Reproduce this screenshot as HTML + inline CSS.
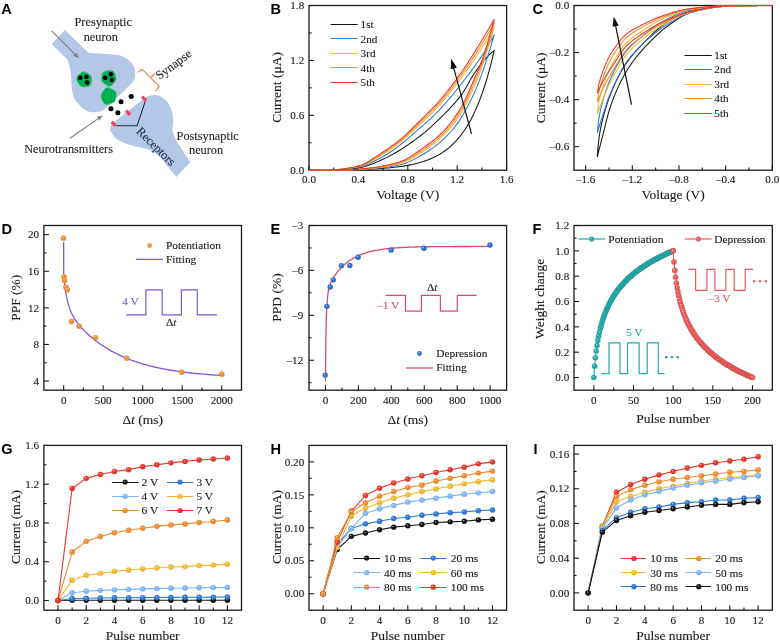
<!DOCTYPE html>
<html><head><meta charset="utf-8"><title>Figure</title>
<style>html,body{margin:0;padding:0;background:#fff;}svg{display:block;}</style></head>
<body><svg width="780" height="642" viewBox="0 0 780 642"><defs><radialGradient id="g0" cx="0.5" cy="0.5" fx="0.36" fy="0.32" r="0.55"><stop offset="0" stop-color="#fbe3ca"/><stop offset="0.35" stop-color="#f0902a"/><stop offset="0.85" stop-color="#f0902a"/><stop offset="1" stop-color="#9c5e1b"/></radialGradient><radialGradient id="g1" cx="0.5" cy="0.5" fx="0.36" fy="0.32" r="0.55"><stop offset="0" stop-color="#cadcf5"/><stop offset="0.35" stop-color="#2a72d8"/><stop offset="0.85" stop-color="#2a72d8"/><stop offset="1" stop-color="#1b4a8c"/></radialGradient><radialGradient id="g2" cx="0.5" cy="0.5" fx="0.36" fy="0.32" r="0.55"><stop offset="0" stop-color="#c8eae9"/><stop offset="0.35" stop-color="#22aaa8"/><stop offset="0.85" stop-color="#22aaa8"/><stop offset="1" stop-color="#166e6d"/></radialGradient><radialGradient id="g3" cx="0.5" cy="0.5" fx="0.36" fy="0.32" r="0.55"><stop offset="0" stop-color="#fad5d5"/><stop offset="0.35" stop-color="#ea5858"/><stop offset="0.85" stop-color="#ea5858"/><stop offset="1" stop-color="#983939"/></radialGradient><radialGradient id="g4" cx="0.5" cy="0.5" fx="0.36" fy="0.32" r="0.55"><stop offset="0" stop-color="#c4c4c4"/><stop offset="0.35" stop-color="#141414"/><stop offset="0.85" stop-color="#141414"/><stop offset="1" stop-color="#0d0d0d"/></radialGradient><radialGradient id="g5" cx="0.5" cy="0.5" fx="0.36" fy="0.32" r="0.55"><stop offset="0" stop-color="#caddf5"/><stop offset="0.35" stop-color="#2a78d8"/><stop offset="0.85" stop-color="#2a78d8"/><stop offset="1" stop-color="#1b4e8c"/></radialGradient><radialGradient id="g6" cx="0.5" cy="0.5" fx="0.36" fy="0.32" r="0.55"><stop offset="0" stop-color="#deedfb"/><stop offset="0.35" stop-color="#7db6f0"/><stop offset="0.85" stop-color="#7db6f0"/><stop offset="1" stop-color="#51769c"/></radialGradient><radialGradient id="g7" cx="0.5" cy="0.5" fx="0.36" fy="0.32" r="0.55"><stop offset="0" stop-color="#fcedca"/><stop offset="0.35" stop-color="#f5b82a"/><stop offset="0.85" stop-color="#f5b82a"/><stop offset="1" stop-color="#9f781b"/></radialGradient><radialGradient id="g8" cx="0.5" cy="0.5" fx="0.36" fy="0.32" r="0.55"><stop offset="0" stop-color="#fce2ca"/><stop offset="0.35" stop-color="#f28a2c"/><stop offset="0.85" stop-color="#f28a2c"/><stop offset="1" stop-color="#9d5a1d"/></radialGradient><radialGradient id="g9" cx="0.5" cy="0.5" fx="0.36" fy="0.32" r="0.55"><stop offset="0" stop-color="#f9ccca"/><stop offset="0.35" stop-color="#e8352b"/><stop offset="0.85" stop-color="#e8352b"/><stop offset="1" stop-color="#97221c"/></radialGradient></defs><rect width="780" height="642" fill="#fff"/><path d="M51.7,44.1 L64.9,30.1 L88.3,52.7 C95,53.3 110,54 117.9,55 C125,56.5 132,61 134.5,68 C136,74 135,79 132.5,82.5 L106.2,108.2 C103,110.5 98,112.3 93.8,112.3 C89,112.3 84,110 80.5,106.2 C77,102.5 74.5,100 73.3,96 C72,92 71.6,86 71.4,80.5 C71.2,75 70.8,72 70.3,70.3 C69.6,66 68.8,63 67.7,60 Z" fill="#b4c7e7"/><path d="M111.7,123.9 L145.2,97.5 C147,96 152,95 156,95.1 C160,95.3 165,98.5 168.5,103.7 C171.5,108 173.5,115 173.2,120.8 C173,125 172.8,128 172.4,130.2 C174,136 176,140 178.5,144.5 L190.3,162.1 L176.3,176.9 L162.3,159.8 C158,155 155,152.5 151.4,150.4 C147,149 143,148 138.9,147.3 C132,146 127,144.5 123.4,142.6 C119,140.5 115.5,139 114,136.4 C112,133.5 110.5,131 110.1,130.2 C109.8,128 110.5,125.5 111.7,123.9 Z" fill="#b4c7e7"/><path d="M83.01,71.72 C84.93,71.41 89.91,74.32 90.9,76.14 C91.89,77.97 91.75,84.06 90.44,85.44 C89.13,86.81 82.93,87.36 81.07,86.43 C79.21,85.5 76.22,80.45 76.48,78.49 C76.74,76.53 81.09,72.03 83.01,71.72 Z" fill="#00b050" stroke="#3cc070" stroke-width="0.6"/><path d="M112.8,71.07 C114.47,72.07 116.42,77.49 116,79.53 C115.58,81.57 111.56,86.15 109.68,86.35 C107.79,86.56 102.69,83 101.86,81.09 C101.03,79.18 101.99,73.39 103.45,72.05 C104.91,70.72 111.13,70.08 112.8,71.07 Z" fill="#00b050" stroke="#3cc070" stroke-width="0.6"/><path d="M115.87,92 C116.9,93.83 115.98,99.91 114.53,101.54 C113.08,103.17 106.81,105.07 105.01,104.26 C103.22,103.44 100.84,97.6 101.08,95.41 C101.32,93.22 104.85,88.27 106.82,87.82 C108.79,87.36 114.85,90.17 115.87,92 Z" fill="#00b050" stroke="#3cc070" stroke-width="0.6"/><circle cx="80.2" cy="77.9" r="2.3" fill="#000"/><circle cx="86.4" cy="76.9" r="2.3" fill="#000"/><circle cx="87.2" cy="82.6" r="2.3" fill="#000"/><circle cx="105.1" cy="77.9" r="2.3" fill="#000"/><circle cx="110.9" cy="74.2" r="2.3" fill="#000"/><circle cx="112" cy="80" r="2.3" fill="#000"/><circle cx="131.2" cy="96.4" r="2.5" fill="#000"/><circle cx="121" cy="101.8" r="2.5" fill="#000"/><circle cx="110.9" cy="108.7" r="2.5" fill="#000"/><circle cx="117.9" cy="112.7" r="2.5" fill="#000"/><polyline points="116.4,125.8 137.1,125.8 145.2,101.4" fill="none" stroke="#1f2a44" stroke-width="1.1"/><rect x="110.8" y="122.30000000000001" width="5.8" height="3.2" fill="#e8485a" transform="rotate(45 113.7 123.9)"/><rect x="125.1" y="111.10000000000001" width="5.8" height="3.2" fill="#e8485a" transform="rotate(45 128 112.7)"/><rect x="141.2" y="97.10000000000001" width="5.8" height="3.2" fill="#e8485a" transform="rotate(45 144.1 98.7)"/><line x1="51.7" y1="30.9" x2="75.02" y2="54.3" stroke="#7f7f7f" stroke-width="1.1"/><polygon points="78.9,58.2 73.46,55.86 76.58,52.75" fill="#7f7f7f"/><line x1="70" y1="138.3" x2="98.19" y2="118.65" stroke="#7f7f7f" stroke-width="1.1"/><polygon points="102.7,115.5 99.45,120.45 96.93,116.84" fill="#7f7f7f"/><polyline points="137.6,72.4 142.1,69.2 159.2,86.3 155.6,90.8" fill="none" stroke="#ed7d31" stroke-width="1.1" stroke-linejoin="miter"/><line x1="150.6" y1="77.7" x2="155.1" y2="73.5" stroke="#ed7d31" stroke-width="1.1"/><text x="74.5" y="25.8" font-family="'Liberation Serif','Times New Roman',serif" font-size="12.3" fill="#262626" stroke="#262626" stroke-width="0.12">Presynaptic</text><text x="83.7" y="40.8" font-family="'Liberation Serif','Times New Roman',serif" font-size="12.3" fill="#262626" stroke="#262626" stroke-width="0.12">neuron</text><text x="24.2" y="152.5" font-family="'Liberation Serif','Times New Roman',serif" font-size="12.3" fill="#262626" stroke="#262626" stroke-width="0.12">Neurotransmitters</text><text x="176.6" y="139.6" font-family="'Liberation Serif','Times New Roman',serif" font-size="12.3" fill="#262626" stroke="#262626" stroke-width="0.12">Postsynaptic</text><text x="189" y="154.4" font-family="'Liberation Serif','Times New Roman',serif" font-size="12.3" fill="#262626" stroke="#262626" stroke-width="0.12">neuron</text><text x="159.6" y="80" font-family="'Liberation Serif','Times New Roman',serif" font-size="12.3" fill="#262626" stroke="#262626" stroke-width="0.12" transform="rotate(-37 159.6 80)">Synapse</text><text x="135.8" y="131.9" font-family="'Liberation Serif','Times New Roman',serif" font-size="12.3" fill="#1f2a44" stroke="#1f2a44" stroke-width="0.12" transform="rotate(45 135.8 131.9)">Receptors</text><text x="1.2" y="14.3" font-family="'Liberation Sans',Arial,sans-serif" font-size="14.6" font-weight="bold" fill="#000">A</text><line x1="333.7" y1="170.2" x2="333.7" y2="167.6" stroke="#1a1a1a" stroke-width="1.1" /><line x1="383.1" y1="170.2" x2="383.1" y2="167.6" stroke="#1a1a1a" stroke-width="1.1" /><line x1="432.5" y1="170.2" x2="432.5" y2="167.6" stroke="#1a1a1a" stroke-width="1.1" /><line x1="481.9" y1="170.2" x2="481.9" y2="167.6" stroke="#1a1a1a" stroke-width="1.1" /><line x1="309" y1="170.2" x2="309" y2="165.2" stroke="#1a1a1a" stroke-width="1.1" /><line x1="358.4" y1="170.2" x2="358.4" y2="165.2" stroke="#1a1a1a" stroke-width="1.1" /><line x1="407.8" y1="170.2" x2="407.8" y2="165.2" stroke="#1a1a1a" stroke-width="1.1" /><line x1="457.2" y1="170.2" x2="457.2" y2="165.2" stroke="#1a1a1a" stroke-width="1.1" /><line x1="506.6" y1="170.2" x2="506.6" y2="165.2" stroke="#1a1a1a" stroke-width="1.1" /><line x1="309" y1="142.75" x2="311.6" y2="142.75" stroke="#1a1a1a" stroke-width="1.1" /><line x1="309" y1="87.85" x2="311.6" y2="87.85" stroke="#1a1a1a" stroke-width="1.1" /><line x1="309" y1="32.95" x2="311.6" y2="32.95" stroke="#1a1a1a" stroke-width="1.1" /><line x1="309" y1="170.2" x2="314" y2="170.2" stroke="#1a1a1a" stroke-width="1.1" /><line x1="309" y1="115.3" x2="314" y2="115.3" stroke="#1a1a1a" stroke-width="1.1" /><line x1="309" y1="60.4" x2="314" y2="60.4" stroke="#1a1a1a" stroke-width="1.1" /><line x1="309" y1="5.5" x2="314" y2="5.5" stroke="#1a1a1a" stroke-width="1.1" /><rect x="309" y="5.5" width="197.6" height="164.7" fill="none" stroke="#1a1a1a" stroke-width="1.3"/><text x="309" y="182.8" font-family="'Liberation Serif','Times New Roman',serif" font-size="11.1" text-anchor="middle" fill="#1a1a1a" stroke="#1a1a1a" stroke-width="0.12" font-weight="normal" >0.0</text><text x="358.4" y="182.8" font-family="'Liberation Serif','Times New Roman',serif" font-size="11.1" text-anchor="middle" fill="#1a1a1a" stroke="#1a1a1a" stroke-width="0.12" font-weight="normal" >0.4</text><text x="407.8" y="182.8" font-family="'Liberation Serif','Times New Roman',serif" font-size="11.1" text-anchor="middle" fill="#1a1a1a" stroke="#1a1a1a" stroke-width="0.12" font-weight="normal" >0.8</text><text x="457.2" y="182.8" font-family="'Liberation Serif','Times New Roman',serif" font-size="11.1" text-anchor="middle" fill="#1a1a1a" stroke="#1a1a1a" stroke-width="0.12" font-weight="normal" >1.2</text><text x="506.6" y="182.8" font-family="'Liberation Serif','Times New Roman',serif" font-size="11.1" text-anchor="middle" fill="#1a1a1a" stroke="#1a1a1a" stroke-width="0.12" font-weight="normal" >1.6</text><text x="304.2" y="173.9" font-family="'Liberation Serif','Times New Roman',serif" font-size="11.1" text-anchor="end" fill="#1a1a1a" stroke="#1a1a1a" stroke-width="0.12" font-weight="normal" >0.0</text><text x="304.2" y="119" font-family="'Liberation Serif','Times New Roman',serif" font-size="11.1" text-anchor="end" fill="#1a1a1a" stroke="#1a1a1a" stroke-width="0.12" font-weight="normal" >0.6</text><text x="304.2" y="64.1" font-family="'Liberation Serif','Times New Roman',serif" font-size="11.1" text-anchor="end" fill="#1a1a1a" stroke="#1a1a1a" stroke-width="0.12" font-weight="normal" >1.2</text><text x="304.2" y="9.2" font-family="'Liberation Serif','Times New Roman',serif" font-size="11.1" text-anchor="end" fill="#1a1a1a" stroke="#1a1a1a" stroke-width="0.12" font-weight="normal" >1.8</text><polyline points="309,170.2 311.08,170.2 313.16,170.19 315.24,170.18 317.33,170.16 319.41,170.14 321.49,170.12 323.57,170.1 325.65,170.07 327.73,170.03 329.81,170 331.9,169.96 333.98,169.92 336.06,169.86 338.14,169.78 340.22,169.68 342.3,169.55 344.38,169.4 346.47,169.23 348.55,169.04 350.63,168.84 352.71,168.61 354.79,168.37 356.87,168.11 358.96,167.83 361.04,167.47 363.12,167 365.2,166.43 367.28,165.77 369.36,165.04 371.44,164.26 373.53,163.41 375.61,162.53 377.69,161.63 379.77,160.7 381.85,159.77 383.93,158.85 386.01,157.88 388.1,156.85 390.18,155.77 392.26,154.65 394.34,153.48 396.42,152.26 398.5,151 400.58,149.7 402.67,148.37 404.75,147 406.83,145.6 408.91,144.16 410.99,142.7 413.07,141.21 415.15,139.7 417.24,138.17 419.32,136.61 421.4,135.04 423.48,133.41 425.56,131.69 427.64,129.91 429.72,128.06 431.81,126.15 433.89,124.2 435.97,122.21 438.05,120.18 440.13,118.13 442.21,116.07 444.29,114 446.38,111.92 448.46,109.81 450.54,107.64 452.62,105.41 454.7,103.08 456.78,100.66 458.87,98.1 460.95,95.41 463.03,92.45 465.11,89.06 467.19,85.42 469.27,81.7 471.35,78.09 473.44,74.77 475.52,71.72 477.6,68.75 479.68,65.88 481.76,63.15 483.84,60.59 485.92,58.22 488.01,56.02 490.09,53.97 492.17,52.07 494.25,50.34 494.25,50.34 492.17,59.18 490.09,67.38 488.01,74.97 485.92,82.01 483.84,88.52 481.76,94.55 479.68,100.14 477.6,105.32 475.52,110.11 473.44,114.55 471.35,118.67 469.27,122.48 467.19,126.01 465.11,129.28 463.03,132.3 460.95,135.11 458.87,137.71 456.78,140.11 454.7,142.34 452.62,144.4 450.54,146.32 448.46,148.09 446.38,149.73 444.29,151.25 442.21,152.65 440.13,153.96 438.05,155.17 435.97,156.28 433.89,157.32 431.81,158.28 429.72,159.17 427.64,159.99 425.56,160.75 423.48,161.46 421.4,162.11 419.32,162.72 417.24,163.28 415.15,163.8 413.07,164.28 410.99,164.73 408.91,165.14 406.83,165.53 404.75,165.88 402.67,166.21 400.58,166.51 398.5,166.79 396.42,167.05 394.34,167.3 392.26,167.52 390.18,167.73 388.1,167.92 386.01,168.1 383.93,168.26 381.85,168.41 379.77,168.56 377.69,168.69 375.61,168.81 373.53,168.92 371.44,169.02 369.36,169.12 367.28,169.21 365.2,169.29 363.12,169.37 361.04,169.44 358.96,169.51 356.87,169.57 354.79,169.62 352.71,169.68 350.63,169.72 348.55,169.77 346.47,169.81 344.38,169.85 342.3,169.88 340.22,169.92 338.14,169.95 336.06,169.98 333.98,170 331.9,170.03 329.81,170.05 327.73,170.07 325.65,170.09 323.57,170.11 321.49,170.12 319.41,170.14 317.33,170.15 315.24,170.17 313.16,170.18 311.08,170.19 309,170.2" fill="none" stroke="#141414" stroke-width="1.05" stroke-linejoin="round" /><polyline points="309,170.2 311.08,170.2 313.16,170.19 315.24,170.17 317.33,170.15 319.41,170.13 321.49,170.1 323.57,170.06 325.65,170.02 327.73,169.98 329.81,169.93 331.9,169.88 333.98,169.83 336.06,169.75 338.14,169.63 340.22,169.48 342.3,169.3 344.38,169.09 346.47,168.84 348.55,168.57 350.63,168.28 352.71,167.96 354.79,167.63 356.87,167.27 358.96,166.89 361.04,166.42 363.12,165.83 365.2,165.13 367.28,164.34 369.36,163.46 371.44,162.52 373.53,161.52 375.61,160.47 377.69,159.38 379.77,158.27 381.85,157.15 383.93,156.02 386.01,154.82 388.1,153.54 390.18,152.19 392.26,150.77 394.34,149.28 396.42,147.74 398.5,146.14 400.58,144.5 402.67,142.81 404.75,141.1 406.83,139.35 408.91,137.58 410.99,135.79 413.07,133.98 415.15,132.17 417.24,130.36 419.32,128.55 421.4,126.76 423.48,124.94 425.56,123.1 427.64,121.21 429.72,119.3 431.81,117.34 433.89,115.34 435.97,113.29 438.05,111.19 440.13,109.05 442.21,106.84 444.29,104.55 446.38,102.19 448.46,99.77 450.54,97.29 452.62,94.76 454.7,92.19 456.78,89.58 458.87,86.95 460.95,84.31 463.03,81.66 465.11,78.99 467.19,76.3 469.27,73.59 471.35,70.83 473.44,68.01 475.52,65.14 477.6,62.19 479.68,59.16 481.76,56.04 483.84,52.79 485.92,49.4 488.01,45.89 490.09,42.27 492.17,38.56 494.25,34.78 494.25,34.78 492.17,41.89 490.09,48.8 488.01,55.48 485.92,61.93 483.84,68.12 481.76,74.05 479.68,79.7 477.6,85.05 475.52,90.09 473.44,94.81 471.35,99.18 469.27,103.31 467.19,107.29 465.11,111.09 463.03,114.7 460.95,118.13 458.87,121.35 456.78,124.36 454.7,127.14 452.62,129.7 450.54,132.01 448.46,134.2 446.38,136.3 444.29,138.3 442.21,140.22 440.13,142.05 438.05,143.8 435.97,145.47 433.89,147.07 431.81,148.59 429.72,150.05 427.64,151.45 425.56,152.78 423.48,154.05 421.4,155.27 419.32,156.45 417.24,157.62 415.15,158.76 413.07,159.86 410.99,160.91 408.91,161.88 406.83,162.76 404.75,163.54 402.67,164.2 400.58,164.72 398.5,165.16 396.42,165.58 394.34,165.97 392.26,166.33 390.18,166.67 388.1,166.99 386.01,167.28 383.93,167.55 381.85,167.8 379.77,168.04 377.69,168.25 375.61,168.44 373.53,168.62 371.44,168.78 369.36,168.92 367.28,169.07 365.2,169.21 363.12,169.34 361.04,169.46 358.96,169.58 356.87,169.69 354.79,169.78 352.71,169.86 350.63,169.93 348.55,169.98 346.47,170.01 344.38,170.03 342.3,170.05 340.22,170.07 338.14,170.08 336.06,170.1 333.98,170.11 331.9,170.13 329.81,170.14 327.73,170.15 325.65,170.16 323.57,170.17 321.49,170.18 319.41,170.18 317.33,170.19 315.24,170.19 313.16,170.2 311.08,170.2 309,170.2" fill="none" stroke="#2a78d8" stroke-width="1.05" stroke-linejoin="round" /><polyline points="309,170.2 311.08,170.2 313.16,170.19 315.24,170.17 317.33,170.15 319.41,170.12 321.49,170.08 323.57,170.04 325.65,170 327.73,169.95 329.81,169.9 331.9,169.84 333.98,169.78 336.06,169.69 338.14,169.56 340.22,169.39 342.3,169.19 344.38,168.95 346.47,168.67 348.55,168.37 350.63,168.03 352.71,167.67 354.79,167.29 356.87,166.88 358.96,166.45 361.04,165.89 363.12,165.18 365.2,164.34 367.28,163.38 369.36,162.34 371.44,161.21 373.53,160.04 375.61,158.82 377.69,157.59 379.77,156.36 381.85,155.13 383.93,153.89 386.01,152.59 388.1,151.23 390.18,149.81 392.26,148.33 394.34,146.8 396.42,145.21 398.5,143.58 400.58,141.9 402.67,140.17 404.75,138.38 406.83,136.55 408.91,134.68 410.99,132.78 413.07,130.85 415.15,128.91 417.24,126.97 419.32,125.02 421.4,123.09 423.48,121.15 425.56,119.19 427.64,117.21 429.72,115.19 431.81,113.14 433.89,111.05 435.97,108.91 438.05,106.71 440.13,104.46 442.21,102.14 444.29,99.74 446.38,97.26 448.46,94.72 450.54,92.12 452.62,89.46 454.7,86.76 456.78,84.02 458.87,81.24 460.95,78.44 463.03,75.61 465.11,72.74 467.19,69.83 469.27,66.88 471.35,63.87 473.44,60.82 475.52,57.71 477.6,54.55 479.68,51.33 481.76,48.06 483.84,44.69 485.92,41.23 488.01,37.67 490.09,34.02 492.17,30.31 494.25,26.54 494.25,26.54 492.17,34.07 490.09,41.32 488.01,48.28 485.92,54.95 483.84,61.32 481.76,67.36 479.68,73.04 477.6,78.38 475.52,83.43 473.44,88.25 471.35,92.88 469.27,97.38 467.19,101.72 465.11,105.86 463.03,109.75 460.95,113.31 458.87,116.64 456.78,119.77 454.7,122.7 452.62,125.42 450.54,127.94 448.46,130.32 446.38,132.58 444.29,134.74 442.21,136.78 440.13,138.72 438.05,140.57 435.97,142.32 433.89,143.99 431.81,145.59 429.72,147.12 427.64,148.58 425.56,149.99 423.48,151.34 421.4,152.66 419.32,153.96 417.24,155.25 415.15,156.54 413.07,157.79 410.99,158.98 408.91,160.1 406.83,161.13 404.75,162.04 402.67,162.82 400.58,163.45 398.5,163.97 396.42,164.47 394.34,164.94 392.26,165.38 390.18,165.79 388.1,166.18 386.01,166.54 383.93,166.87 381.85,167.18 379.77,167.47 377.69,167.73 375.61,167.97 373.53,168.19 371.44,168.39 369.36,168.58 367.28,168.76 365.2,168.94 363.12,169.11 361.04,169.27 358.96,169.42 356.87,169.56 354.79,169.68 352.71,169.78 350.63,169.87 348.55,169.93 346.47,169.97 344.38,170 342.3,170.02 340.22,170.04 338.14,170.06 336.06,170.08 333.98,170.1 331.9,170.11 329.81,170.13 327.73,170.14 325.65,170.15 323.57,170.16 321.49,170.17 319.41,170.18 317.33,170.19 315.24,170.19 313.16,170.2 311.08,170.2 309,170.2" fill="none" stroke="#f5b82a" stroke-width="1.05" stroke-linejoin="round" /><polyline points="309,170.2 311.08,170.2 313.16,170.19 315.24,170.17 317.33,170.14 319.41,170.11 321.49,170.08 323.57,170.03 325.65,169.99 327.73,169.94 329.81,169.88 331.9,169.82 333.98,169.76 336.06,169.66 338.14,169.52 340.22,169.34 342.3,169.12 344.38,168.86 346.47,168.57 348.55,168.24 350.63,167.89 352.71,167.5 354.79,167.09 356.87,166.65 358.96,166.18 361.04,165.57 363.12,164.79 365.2,163.86 367.28,162.8 369.36,161.64 371.44,160.41 373.53,159.12 375.61,157.81 377.69,156.49 379.77,155.19 381.85,153.91 383.93,152.61 386.01,151.26 388.1,149.86 390.18,148.41 392.26,146.92 394.34,145.38 396.42,143.79 398.5,142.15 400.58,140.47 402.67,138.74 404.75,136.93 406.83,135.07 408.91,133.15 410.99,131.2 413.07,129.22 415.15,127.21 417.24,125.2 419.32,123.19 421.4,121.19 423.48,119.19 425.56,117.18 427.64,115.15 429.72,113.1 431.81,111.01 433.89,108.89 435.97,106.71 438.05,104.48 440.13,102.19 442.21,99.82 444.29,97.38 446.38,94.86 448.46,92.28 450.54,89.63 452.62,86.92 454.7,84.17 456.78,81.37 458.87,78.53 460.95,75.66 463.03,72.75 465.11,69.78 467.19,66.76 469.27,63.68 471.35,60.54 473.44,57.36 475.52,54.14 477.6,50.87 479.68,47.57 481.76,44.23 483.84,40.84 485.92,37.37 488.01,33.83 490.09,30.23 492.17,26.58 494.25,22.89 494.25,22.88 492.17,30.59 490.09,37.96 488.01,45.01 485.92,51.72 483.84,58.08 481.76,64.09 479.68,69.68 477.6,74.9 475.52,79.85 473.44,84.65 471.35,89.4 469.27,94.08 467.19,98.64 465.11,102.97 463.03,106.99 460.95,110.6 458.87,113.94 456.78,117.1 454.7,120.09 452.62,122.89 450.54,125.51 448.46,128 446.38,130.35 444.29,132.58 442.21,134.69 440.13,136.68 438.05,138.56 435.97,140.35 433.89,142.05 431.81,143.66 429.72,145.21 427.64,146.7 425.56,148.14 423.48,149.54 421.4,150.91 419.32,152.27 417.24,153.64 415.15,155.01 413.07,156.36 410.99,157.65 408.91,158.87 406.83,159.99 404.75,161 402.67,161.86 400.58,162.55 398.5,163.14 396.42,163.69 394.34,164.22 392.26,164.71 390.18,165.17 388.1,165.61 386.01,166.01 383.93,166.39 381.85,166.74 379.77,167.06 377.69,167.36 375.61,167.63 373.53,167.89 371.44,168.12 369.36,168.33 367.28,168.54 365.2,168.75 363.12,168.94 361.04,169.13 358.96,169.3 356.87,169.46 354.79,169.6 352.71,169.73 350.63,169.82 348.55,169.9 346.47,169.95 344.38,169.97 342.3,170 340.22,170.02 338.14,170.04 336.06,170.07 333.98,170.09 331.9,170.1 329.81,170.12 327.73,170.13 325.65,170.15 323.57,170.16 321.49,170.17 319.41,170.18 317.33,170.19 315.24,170.19 313.16,170.2 311.08,170.2 309,170.2" fill="none" stroke="#f28a2c" stroke-width="1.05" stroke-linejoin="round" /><polyline points="309,170.2 311.08,170.2 313.16,170.18 315.24,170.17 317.33,170.14 319.41,170.11 321.49,170.07 323.57,170.03 325.65,169.98 327.73,169.92 329.81,169.86 331.9,169.8 333.98,169.73 336.06,169.63 338.14,169.49 340.22,169.3 342.3,169.06 344.38,168.79 346.47,168.48 348.55,168.13 350.63,167.75 352.71,167.34 354.79,166.9 356.87,166.44 358.96,165.94 361.04,165.28 363.12,164.43 365.2,163.42 367.28,162.27 369.36,161.01 371.44,159.68 373.53,158.29 375.61,156.89 377.69,155.49 379.77,154.12 381.85,152.79 383.93,151.43 386.01,150.03 388.1,148.6 390.18,147.12 392.26,145.61 394.34,144.05 396.42,142.46 398.5,140.82 400.58,139.13 402.67,137.38 404.75,135.55 406.83,133.66 408.91,131.7 410.99,129.7 413.07,127.66 415.15,125.59 417.24,123.52 419.32,121.44 421.4,119.37 423.48,117.31 425.56,115.25 427.64,113.18 429.72,111.09 431.81,108.97 433.89,106.81 435.97,104.6 438.05,102.33 440.13,99.99 442.21,97.58 444.29,95.09 446.38,92.53 448.46,89.89 450.54,87.2 452.62,84.44 454.7,81.64 456.78,78.78 458.87,75.88 460.95,72.94 463.03,69.95 465.11,66.88 467.19,63.74 469.27,60.54 471.35,57.29 473.44,53.99 475.52,50.65 477.6,47.29 479.68,43.9 481.76,40.5 483.84,37.07 485.92,33.58 488.01,30.05 490.09,26.48 492.17,22.87 494.25,19.22 494.25,19.23 492.17,27.1 490.09,34.6 488.01,41.73 485.92,48.47 483.84,54.82 481.76,60.79 479.68,66.28 477.6,71.35 475.52,76.19 473.44,80.97 471.35,85.83 469.27,90.72 467.19,95.49 465.11,100.02 463.03,104.17 460.95,107.82 458.87,111.17 456.78,114.36 454.7,117.4 452.62,120.29 450.54,123.02 448.46,125.61 446.38,128.06 444.29,130.36 442.21,132.54 440.13,134.58 438.05,136.5 435.97,138.31 433.89,140.03 431.81,141.67 429.72,143.24 427.64,144.76 425.56,146.23 423.48,147.66 421.4,149.08 419.32,150.51 417.24,151.97 415.15,153.43 413.07,154.87 410.99,156.27 408.91,157.59 406.83,158.81 404.75,159.91 402.67,160.85 400.58,161.62 398.5,162.27 396.42,162.88 394.34,163.47 392.26,164.01 390.18,164.53 388.1,165.01 386.01,165.46 383.93,165.88 381.85,166.27 379.77,166.64 377.69,166.97 375.61,167.28 373.53,167.57 371.44,167.83 369.36,168.07 367.28,168.31 365.2,168.54 363.12,168.77 361.04,168.98 358.96,169.18 356.87,169.36 354.79,169.53 352.71,169.67 350.63,169.78 348.55,169.87 346.47,169.92 344.38,169.95 342.3,169.98 340.22,170 338.14,170.03 336.06,170.05 333.98,170.07 331.9,170.09 329.81,170.11 327.73,170.13 325.65,170.14 323.57,170.16 321.49,170.17 319.41,170.18 317.33,170.19 315.24,170.19 313.16,170.2 311.08,170.2 309,170.2" fill="none" stroke="#e8352b" stroke-width="1.05" stroke-linejoin="round" /><text x="407.8" y="199.2" font-family="'Liberation Serif','Times New Roman',serif" font-size="13.5" text-anchor="middle" fill="#1a1a1a" stroke="#1a1a1a" stroke-width="0.12" font-weight="normal" >Voltage (V)</text><text transform="translate(281.2,87.4) rotate(-90)" font-family="'Liberation Serif','Times New Roman',serif" font-size="13.5" text-anchor="middle" fill="#1a1a1a" stroke="#1a1a1a" stroke-width="0.12">Current (μA)</text><line x1="330.6" y1="24.5" x2="357.7" y2="24.5" stroke="#141414" stroke-width="1.0" /><text x="360.6" y="28.2" font-family="'Liberation Serif','Times New Roman',serif" font-size="11.2" text-anchor="start" fill="#1a1a1a" stroke="#1a1a1a" stroke-width="0.12" font-weight="normal" >1st</text><line x1="330.6" y1="38.5" x2="357.7" y2="38.5" stroke="#2a78d8" stroke-width="1.0" /><text x="360.6" y="42.7" font-family="'Liberation Serif','Times New Roman',serif" font-size="11.2" text-anchor="start" fill="#1a1a1a" stroke="#1a1a1a" stroke-width="0.12" font-weight="normal" >2nd</text><line x1="330.6" y1="53.5" x2="357.7" y2="53.5" stroke="#f5b82a" stroke-width="1.0" /><text x="360.6" y="57.2" font-family="'Liberation Serif','Times New Roman',serif" font-size="11.2" text-anchor="start" fill="#1a1a1a" stroke="#1a1a1a" stroke-width="0.12" font-weight="normal" >3rd</text><line x1="330.6" y1="67.5" x2="357.7" y2="67.5" stroke="#f28a2c" stroke-width="1.0" /><text x="360.6" y="71.7" font-family="'Liberation Serif','Times New Roman',serif" font-size="11.2" text-anchor="start" fill="#1a1a1a" stroke="#1a1a1a" stroke-width="0.12" font-weight="normal" >4th</text><line x1="330.6" y1="82.5" x2="357.7" y2="82.5" stroke="#e8352b" stroke-width="1.0" /><text x="360.6" y="86.2" font-family="'Liberation Serif','Times New Roman',serif" font-size="11.2" text-anchor="start" fill="#1a1a1a" stroke="#1a1a1a" stroke-width="0.12" font-weight="normal" >5th</text><line x1="471.5" y1="133.8" x2="453.29" y2="66.42" stroke="#111" stroke-width="1.2" /><polygon points="451.2,58.7 456.9,67.52 450.72,69.19" fill="#111"/><text x="270.6" y="13.9" font-family="'Liberation Sans',Arial,sans-serif" font-size="14.6" text-anchor="start" fill="#000" stroke="#000" stroke-width="0" font-weight="bold" >B</text><line x1="608.99" y1="170.2" x2="608.99" y2="167.6" stroke="#1a1a1a" stroke-width="1.1" /><line x1="655.65" y1="170.2" x2="655.65" y2="167.6" stroke="#1a1a1a" stroke-width="1.1" /><line x1="702.31" y1="170.2" x2="702.31" y2="167.6" stroke="#1a1a1a" stroke-width="1.1" /><line x1="748.97" y1="170.2" x2="748.97" y2="167.6" stroke="#1a1a1a" stroke-width="1.1" /><line x1="585.66" y1="170.2" x2="585.66" y2="165.2" stroke="#1a1a1a" stroke-width="1.1" /><line x1="632.32" y1="170.2" x2="632.32" y2="165.2" stroke="#1a1a1a" stroke-width="1.1" /><line x1="678.98" y1="170.2" x2="678.98" y2="165.2" stroke="#1a1a1a" stroke-width="1.1" /><line x1="725.64" y1="170.2" x2="725.64" y2="165.2" stroke="#1a1a1a" stroke-width="1.1" /><line x1="772.3" y1="170.2" x2="772.3" y2="165.2" stroke="#1a1a1a" stroke-width="1.1" /><line x1="574" y1="123.14" x2="576.6" y2="123.14" stroke="#1a1a1a" stroke-width="1.1" /><line x1="574" y1="76.09" x2="576.6" y2="76.09" stroke="#1a1a1a" stroke-width="1.1" /><line x1="574" y1="29.03" x2="576.6" y2="29.03" stroke="#1a1a1a" stroke-width="1.1" /><line x1="574" y1="146.67" x2="579" y2="146.67" stroke="#1a1a1a" stroke-width="1.1" /><line x1="574" y1="99.61" x2="579" y2="99.61" stroke="#1a1a1a" stroke-width="1.1" /><line x1="574" y1="52.56" x2="579" y2="52.56" stroke="#1a1a1a" stroke-width="1.1" /><line x1="574" y1="5.5" x2="579" y2="5.5" stroke="#1a1a1a" stroke-width="1.1" /><rect x="574" y="5.5" width="198.3" height="164.7" fill="none" stroke="#1a1a1a" stroke-width="1.3"/><text x="585.66" y="182.8" font-family="'Liberation Serif','Times New Roman',serif" font-size="11.1" text-anchor="middle" fill="#1a1a1a" stroke="#1a1a1a" stroke-width="0.12" font-weight="normal" >–1.6</text><text x="632.32" y="182.8" font-family="'Liberation Serif','Times New Roman',serif" font-size="11.1" text-anchor="middle" fill="#1a1a1a" stroke="#1a1a1a" stroke-width="0.12" font-weight="normal" >–1.2</text><text x="678.98" y="182.8" font-family="'Liberation Serif','Times New Roman',serif" font-size="11.1" text-anchor="middle" fill="#1a1a1a" stroke="#1a1a1a" stroke-width="0.12" font-weight="normal" >–0.8</text><text x="725.64" y="182.8" font-family="'Liberation Serif','Times New Roman',serif" font-size="11.1" text-anchor="middle" fill="#1a1a1a" stroke="#1a1a1a" stroke-width="0.12" font-weight="normal" >–0.4</text><text x="772.3" y="182.8" font-family="'Liberation Serif','Times New Roman',serif" font-size="11.1" text-anchor="middle" fill="#1a1a1a" stroke="#1a1a1a" stroke-width="0.12" font-weight="normal" >0.0</text><text x="569.2" y="150.37" font-family="'Liberation Serif','Times New Roman',serif" font-size="11.1" text-anchor="end" fill="#1a1a1a" stroke="#1a1a1a" stroke-width="0.12" font-weight="normal" >–0.6</text><text x="569.2" y="103.31" font-family="'Liberation Serif','Times New Roman',serif" font-size="11.1" text-anchor="end" fill="#1a1a1a" stroke="#1a1a1a" stroke-width="0.12" font-weight="normal" >–0.4</text><text x="569.2" y="56.26" font-family="'Liberation Serif','Times New Roman',serif" font-size="11.1" text-anchor="end" fill="#1a1a1a" stroke="#1a1a1a" stroke-width="0.12" font-weight="normal" >–0.2</text><text x="569.2" y="9.2" font-family="'Liberation Serif','Times New Roman',serif" font-size="11.1" text-anchor="end" fill="#1a1a1a" stroke="#1a1a1a" stroke-width="0.12" font-weight="normal" >0.0</text><polyline points="772.3,5.5 771.42,5.5 770.54,5.5 769.66,5.5 768.78,5.5 767.9,5.51 767.02,5.51 766.15,5.51 765.27,5.52 764.39,5.52 763.51,5.53 762.63,5.54 761.75,5.54 760.87,5.55 759.99,5.56 759.11,5.57 758.23,5.58 757.35,5.58 756.47,5.59 755.59,5.61 754.72,5.62 753.84,5.63 752.96,5.64 752.08,5.65 751.2,5.67 750.32,5.68 749.44,5.69 748.56,5.71 747.68,5.72 746.8,5.74 745.92,5.76 745.04,5.77 744.16,5.79 743.28,5.81 742.41,5.82 741.53,5.84 740.65,5.86 739.77,5.88 738.89,5.9 738.01,5.92 737.13,5.94 736.25,5.96 735.37,5.99 734.49,6.01 733.61,6.03 732.73,6.05 731.85,6.08 730.98,6.1 730.1,6.13 729.22,6.15 728.34,6.18 727.46,6.2 726.58,6.23 725.7,6.25 724.82,6.28 723.94,6.32 723.06,6.36 722.18,6.41 721.3,6.46 720.42,6.52 719.55,6.58 718.67,6.65 717.79,6.73 716.91,6.81 716.03,6.9 715.15,6.99 714.27,7.08 713.39,7.19 712.51,7.29 711.63,7.4 710.75,7.52 709.87,7.64 708.99,7.77 708.11,7.89 707.24,8.03 706.36,8.17 705.48,8.31 704.6,8.45 703.72,8.6 702.84,8.76 701.96,8.92 701.08,9.08 700.2,9.24 699.32,9.41 698.44,9.58 697.56,9.76 696.68,9.94 695.81,10.12 694.93,10.3 694.05,10.49 693.17,10.68 692.29,10.87 691.41,11.07 690.53,11.27 689.65,11.48 688.77,11.71 687.89,11.97 687.01,12.24 686.13,12.54 685.25,12.85 684.38,13.18 683.5,13.53 682.62,13.89 681.74,14.27 680.86,14.67 679.98,15.08 679.1,15.5 678.22,15.94 677.34,16.39 676.46,16.84 675.58,17.31 674.7,17.79 673.82,18.28 672.94,18.78 672.07,19.28 671.19,19.8 670.31,20.32 669.43,20.84 668.55,21.37 667.67,21.9 666.79,22.44 665.91,23 665.03,23.59 664.15,24.2 663.27,24.83 662.39,25.48 661.51,26.15 660.64,26.84 659.76,27.55 658.88,28.28 658,29.02 657.12,29.78 656.24,30.56 655.36,31.35 654.48,32.16 653.6,32.98 652.72,33.81 651.84,34.65 650.96,35.51 650.08,36.37 649.21,37.25 648.33,38.13 647.45,39.02 646.57,39.92 645.69,40.83 644.81,41.74 643.93,42.65 643.05,43.57 642.17,44.5 641.29,45.42 640.41,46.35 639.53,47.28 638.65,48.21 637.77,49.15 636.9,50.09 636.02,51.05 635.14,52.02 634.26,53.01 633.38,54.01 632.5,55.04 631.62,56.1 630.74,57.18 629.86,58.3 628.98,59.44 628.1,60.63 627.22,61.85 626.34,63.11 625.47,64.42 624.59,65.78 623.71,67.18 622.83,68.63 621.95,70.12 621.07,71.66 620.19,73.25 619.31,74.89 618.43,76.58 617.55,78.32 616.67,80.11 615.79,81.95 614.91,83.84 614.04,85.78 613.16,87.78 612.28,89.84 611.4,91.97 610.52,94.19 609.64,96.51 608.76,98.94 607.88,101.48 607,104.15 606.12,106.96 605.24,109.93 604.36,113.01 603.48,116.12 602.6,119.41 601.73,123.03 600.85,127.15 599.97,131.93 599.09,137.53 598.21,145.15 597.33,156.55 597.33,156.55 598.21,153.12 599.09,149.69 599.97,146.27 600.85,142.86 601.73,139.45 602.6,136.05 603.48,132.64 604.36,129.12 605.24,125.52 606.12,121.92 607,118.39 607.88,115.01 608.76,111.85 609.64,108.99 610.52,106.36 611.4,103.83 612.28,101.39 613.16,99.04 614.04,96.76 614.91,94.57 615.79,92.45 616.67,90.4 617.55,88.41 618.43,86.49 619.31,84.63 620.19,82.82 621.07,81.07 621.95,79.36 622.83,77.7 623.71,76.08 624.59,74.52 625.47,72.99 626.34,71.51 627.22,70.07 628.1,68.66 628.98,67.3 629.86,65.96 630.74,64.66 631.62,63.4 632.5,62.16 633.38,60.95 634.26,59.77 635.14,58.61 636.02,57.47 636.9,56.36 637.77,55.26 638.65,54.19 639.53,53.14 640.41,52.1 641.29,51.09 642.17,50.09 643.05,49.11 643.93,48.14 644.81,47.19 645.69,46.25 646.57,45.32 647.45,44.41 648.33,43.51 649.21,42.62 650.08,41.73 650.96,40.86 651.84,39.99 652.72,39.13 653.6,38.27 654.48,37.42 655.36,36.58 656.24,35.74 657.12,34.92 658,34.1 658.88,33.3 659.76,32.5 660.64,31.72 661.51,30.95 662.39,30.19 663.27,29.45 664.15,28.72 665.03,28.01 665.91,27.31 666.79,26.63 667.67,25.97 668.55,25.32 669.43,24.7 670.31,24.09 671.19,23.48 672.07,22.87 672.94,22.27 673.82,21.66 674.7,21.06 675.58,20.46 676.46,19.87 677.34,19.28 678.22,18.71 679.1,18.14 679.98,17.59 680.86,17.05 681.74,16.53 682.62,16.02 683.5,15.54 684.38,15.07 685.25,14.62 686.13,14.19 687.01,13.79 687.89,13.42 688.77,13.07 689.65,12.74 690.53,12.45 691.41,12.19 692.29,11.96 693.17,11.72 694.05,11.49 694.93,11.27 695.81,11.04 696.68,10.82 697.56,10.61 698.44,10.4 699.32,10.19 700.2,9.99 701.08,9.79 701.96,9.6 702.84,9.41 703.72,9.22 704.6,9.04 705.48,8.87 706.36,8.69 707.24,8.53 708.11,8.37 708.99,8.21 709.87,8.06 710.75,7.92 711.63,7.78 712.51,7.65 713.39,7.52 714.27,7.4 715.15,7.28 716.03,7.17 716.91,7.07 717.79,6.97 718.67,6.88 719.55,6.8 720.42,6.72 721.3,6.65 722.18,6.59 723.06,6.53 723.94,6.48 724.82,6.44 725.7,6.4 726.58,6.37 727.46,6.34 728.34,6.31 729.22,6.28 730.1,6.25 730.98,6.22 731.85,6.19 732.73,6.16 733.61,6.14 734.49,6.11 735.37,6.08 736.25,6.06 737.13,6.03 738.01,6.01 738.89,5.98 739.77,5.96 740.65,5.93 741.53,5.91 742.41,5.89 743.28,5.87 744.16,5.85 745.04,5.83 745.92,5.81 746.8,5.79 747.68,5.77 748.56,5.75 749.44,5.73 750.32,5.71 751.2,5.7 752.08,5.68 752.96,5.67 753.84,5.65 754.72,5.64 755.59,5.63 756.47,5.61 757.35,5.6 758.23,5.59 759.11,5.58 759.99,5.57 760.87,5.56 761.75,5.55 762.63,5.54 763.51,5.54 764.39,5.53 765.27,5.52 766.15,5.52 767.02,5.51 767.9,5.51 768.78,5.51 769.66,5.5 770.54,5.5 771.42,5.5 772.3,5.5" fill="none" stroke="#141414" stroke-width="1.05" stroke-linejoin="round" /><polyline points="772.3,5.5 771.42,5.5 770.54,5.5 769.66,5.5 768.78,5.5 767.9,5.51 767.02,5.51 766.15,5.51 765.27,5.51 764.39,5.52 763.51,5.52 762.63,5.52 761.75,5.53 760.87,5.53 759.99,5.54 759.11,5.55 758.23,5.55 757.35,5.56 756.47,5.57 755.59,5.57 754.72,5.58 753.84,5.59 752.96,5.6 752.08,5.61 751.2,5.62 750.32,5.63 749.44,5.64 748.56,5.65 747.68,5.66 746.8,5.67 745.92,5.68 745.04,5.69 744.16,5.7 743.28,5.71 742.41,5.73 741.53,5.74 740.65,5.75 739.77,5.77 738.89,5.78 738.01,5.8 737.13,5.81 736.25,5.83 735.37,5.84 734.49,5.86 733.61,5.87 732.73,5.89 731.85,5.91 730.98,5.92 730.1,5.94 729.22,5.96 728.34,5.98 727.46,5.99 726.58,6.01 725.7,6.03 724.82,6.05 723.94,6.08 723.06,6.11 722.18,6.15 721.3,6.19 720.42,6.24 719.55,6.29 718.67,6.35 717.79,6.41 716.91,6.48 716.03,6.55 715.15,6.63 714.27,6.71 713.39,6.79 712.51,6.88 711.63,6.97 710.75,7.07 709.87,7.17 708.99,7.28 708.11,7.39 707.24,7.5 706.36,7.61 705.48,7.73 704.6,7.86 703.72,7.98 702.84,8.11 701.96,8.24 701.08,8.38 700.2,8.52 699.32,8.66 698.44,8.8 697.56,8.95 696.68,9.1 695.81,9.25 694.93,9.4 694.05,9.56 693.17,9.71 692.29,9.87 691.41,10.03 690.53,10.2 689.65,10.37 688.77,10.56 687.89,10.77 687.01,11 686.13,11.24 685.25,11.49 684.38,11.76 683.5,12.04 682.62,12.34 681.74,12.64 680.86,12.96 679.98,13.29 679.1,13.64 678.22,13.99 677.34,14.35 676.46,14.72 675.58,15.1 674.7,15.49 673.82,15.89 672.94,16.29 672.07,16.7 671.19,17.11 670.31,17.53 669.43,17.96 668.55,18.39 667.67,18.82 666.79,19.26 665.91,19.71 665.03,20.17 664.15,20.65 663.27,21.13 662.39,21.63 661.51,22.14 660.64,22.67 659.76,23.22 658.88,23.78 658,24.35 657.12,24.94 656.24,25.53 655.36,26.15 654.48,26.77 653.6,27.4 652.72,28.05 651.84,28.71 650.96,29.37 650.08,30.04 649.21,30.73 648.33,31.42 647.45,32.11 646.57,32.82 645.69,33.53 644.81,34.24 643.93,34.96 643.05,35.68 642.17,36.41 641.29,37.14 640.41,37.88 639.53,38.61 638.65,39.35 637.77,40.08 636.9,40.82 636.02,41.57 635.14,42.33 634.26,43.1 633.38,43.88 632.5,44.69 631.62,45.52 630.74,46.37 629.86,47.26 628.98,48.18 628.1,49.13 627.22,50.12 626.34,51.16 625.47,52.26 624.59,53.42 623.71,54.64 622.83,55.91 621.95,57.25 621.07,58.63 620.19,60.06 619.31,61.54 618.43,63.07 617.55,64.63 616.67,66.23 615.79,67.87 614.91,69.53 614.04,71.23 613.16,72.98 612.28,74.79 611.4,76.67 610.52,78.63 609.64,80.69 608.76,82.86 607.88,85.15 607,87.58 606.12,90.15 605.24,92.86 604.36,95.71 603.48,98.62 602.6,101.68 601.73,104.94 600.85,108.5 599.97,112.56 599.09,117.29 598.21,123.57 597.33,132.55 597.33,132.55 598.21,129.67 599.09,126.81 599.97,123.97 600.85,121.18 601.73,118.44 602.6,115.75 603.48,113.1 604.36,110.42 605.24,107.73 606.12,105.06 607,102.45 607.88,99.92 608.76,97.53 609.64,95.3 610.52,93.19 611.4,91.14 612.28,89.15 613.16,87.19 614.04,85.28 614.91,83.41 615.79,81.55 616.67,79.73 617.55,77.94 618.43,76.17 619.31,74.45 620.19,72.76 621.07,71.12 621.95,69.52 622.83,67.97 623.71,66.48 624.59,65.05 625.47,63.68 626.34,62.38 627.22,61.14 628.1,59.95 628.98,58.79 629.86,57.67 630.74,56.59 631.62,55.54 632.5,54.52 633.38,53.52 634.26,52.55 635.14,51.6 636.02,50.67 636.9,49.75 637.77,48.84 638.65,47.95 639.53,47.07 640.41,46.19 641.29,45.33 642.17,44.48 643.05,43.64 643.93,42.82 644.81,42 645.69,41.19 646.57,40.39 647.45,39.61 648.33,38.83 649.21,38.06 650.08,37.3 650.96,36.54 651.84,35.8 652.72,35.06 653.6,34.33 654.48,33.61 655.36,32.9 656.24,32.2 657.12,31.5 658,30.82 658.88,30.15 659.76,29.49 660.64,28.84 661.51,28.21 662.39,27.58 663.27,26.98 664.15,26.37 665.03,25.78 665.91,25.2 666.79,24.63 667.67,24.07 668.55,23.52 669.43,22.98 670.31,22.46 671.19,21.93 672.07,21.41 672.94,20.89 673.82,20.38 674.7,19.87 675.58,19.36 676.46,18.87 677.34,18.38 678.22,17.9 679.1,17.43 679.98,16.96 680.86,16.52 681.74,16.08 682.62,15.65 683.5,15.24 684.38,14.85 685.25,14.47 686.13,14.11 687.01,13.76 687.89,13.44 688.77,13.13 689.65,12.85 690.53,12.58 691.41,12.34 692.29,12.1 693.17,11.87 694.05,11.65 694.93,11.42 695.81,11.2 696.68,10.98 697.56,10.76 698.44,10.55 699.32,10.34 700.2,10.13 701.08,9.92 701.96,9.72 702.84,9.53 703.72,9.34 704.6,9.15 705.48,8.96 706.36,8.78 707.24,8.61 708.11,8.44 708.99,8.28 709.87,8.12 710.75,7.97 711.63,7.82 712.51,7.68 713.39,7.54 714.27,7.41 715.15,7.29 716.03,7.17 716.91,7.06 717.79,6.96 718.67,6.86 719.55,6.77 720.42,6.69 721.3,6.62 722.18,6.55 723.06,6.49 723.94,6.44 724.82,6.4 725.7,6.36 726.58,6.33 727.46,6.3 728.34,6.27 729.22,6.24 730.1,6.21 730.98,6.19 731.85,6.16 732.73,6.13 733.61,6.11 734.49,6.08 735.37,6.05 736.25,6.03 737.13,6 738.01,5.98 738.89,5.96 739.77,5.93 740.65,5.91 741.53,5.89 742.41,5.87 743.28,5.85 744.16,5.83 745.04,5.81 745.92,5.79 746.8,5.77 747.68,5.75 748.56,5.74 749.44,5.72 750.32,5.7 751.2,5.69 752.08,5.67 752.96,5.66 753.84,5.64 754.72,5.63 755.59,5.62 756.47,5.61 757.35,5.6 758.23,5.58 759.11,5.57 759.99,5.57 760.87,5.56 761.75,5.55 762.63,5.54 763.51,5.53 764.39,5.53 765.27,5.52 766.15,5.52 767.02,5.51 767.9,5.51 768.78,5.51 769.66,5.5 770.54,5.5 771.42,5.5 772.3,5.5" fill="none" stroke="#2a78d8" stroke-width="1.05" stroke-linejoin="round" /><polyline points="772.3,5.5 771.42,5.5 770.54,5.5 769.66,5.5 768.78,5.5 767.9,5.5 767.02,5.51 766.15,5.51 765.27,5.51 764.39,5.51 763.51,5.52 762.63,5.52 761.75,5.52 760.87,5.53 759.99,5.53 759.11,5.53 758.23,5.54 757.35,5.54 756.47,5.55 755.59,5.55 754.72,5.56 753.84,5.57 752.96,5.57 752.08,5.58 751.2,5.59 750.32,5.59 749.44,5.6 748.56,5.61 747.68,5.62 746.8,5.62 745.92,5.63 745.04,5.64 744.16,5.65 743.28,5.66 742.41,5.67 741.53,5.68 740.65,5.69 739.77,5.7 738.89,5.71 738.01,5.72 737.13,5.73 736.25,5.74 735.37,5.76 734.49,5.77 733.61,5.78 732.73,5.79 731.85,5.81 730.98,5.82 730.1,5.83 729.22,5.84 728.34,5.86 727.46,5.87 726.58,5.89 725.7,5.9 724.82,5.92 723.94,5.94 723.06,5.96 722.18,6 721.3,6.03 720.42,6.07 719.55,6.11 718.67,6.16 717.79,6.21 716.91,6.27 716.03,6.33 715.15,6.4 714.27,6.46 713.39,6.54 712.51,6.61 711.63,6.69 710.75,6.77 709.87,6.86 708.99,6.95 708.11,7.04 707.24,7.14 706.36,7.24 705.48,7.34 704.6,7.44 703.72,7.55 702.84,7.66 701.96,7.77 701.08,7.89 700.2,8 699.32,8.12 698.44,8.25 697.56,8.37 696.68,8.5 695.81,8.62 694.93,8.75 694.05,8.89 693.17,9.02 692.29,9.15 691.41,9.29 690.53,9.43 689.65,9.58 688.77,9.74 687.89,9.91 687.01,10.1 686.13,10.3 685.25,10.51 684.38,10.74 683.5,10.97 682.62,11.22 681.74,11.47 680.86,11.74 679.98,12.01 679.1,12.3 678.22,12.59 677.34,12.89 676.46,13.2 675.58,13.52 674.7,13.84 673.82,14.17 672.94,14.51 672.07,14.85 671.19,15.19 670.31,15.54 669.43,15.9 668.55,16.25 667.67,16.62 666.79,16.98 665.91,17.35 665.03,17.73 664.15,18.12 663.27,18.51 662.39,18.91 661.51,19.32 660.64,19.74 659.76,20.18 658.88,20.63 658,21.09 657.12,21.56 656.24,22.05 655.36,22.54 654.48,23.04 653.6,23.56 652.72,24.08 651.84,24.61 650.96,25.15 650.08,25.69 649.21,26.25 648.33,26.81 647.45,27.38 646.57,27.95 645.69,28.53 644.81,29.11 643.93,29.7 643.05,30.29 642.17,30.88 641.29,31.48 640.41,32.08 639.53,32.68 638.65,33.28 637.77,33.89 636.9,34.49 636.02,35.1 635.14,35.71 634.26,36.34 633.38,36.97 632.5,37.63 631.62,38.31 630.74,39.01 629.86,39.73 628.98,40.49 628.1,41.28 627.22,42.12 626.34,42.99 625.47,43.92 624.59,44.92 623.71,45.99 622.83,47.11 621.95,48.29 621.07,49.51 620.19,50.79 619.31,52.1 618.43,53.46 617.55,54.85 616.67,56.26 615.79,57.71 614.91,59.17 614.04,60.66 613.16,62.18 612.28,63.77 611.4,65.42 610.52,67.15 609.64,68.97 608.76,70.89 607.88,72.92 607,75.09 606.12,77.39 605.24,79.83 604.36,82.39 603.48,85.04 602.6,87.81 601.73,90.71 600.85,93.8 599.97,97.27 599.09,101.33 598.21,106.62 597.33,113.97 597.33,113.97 598.21,111.51 599.09,109.07 599.97,106.68 600.85,104.33 601.73,102.06 602.6,99.86 603.48,97.71 604.36,95.58 605.24,93.46 606.12,91.37 607,89.33 607.88,87.34 608.76,85.44 609.64,83.63 610.52,81.89 611.4,80.18 612.28,78.5 613.16,76.85 614.04,75.22 614.91,73.6 615.79,71.99 616.67,70.38 617.55,68.78 618.43,67.2 619.31,65.64 620.19,64.11 621.07,62.62 621.95,61.17 622.83,59.77 623.71,58.42 624.59,57.14 625.47,55.92 626.34,54.78 627.22,53.71 628.1,52.68 628.98,51.69 629.86,50.74 630.74,49.82 631.62,48.94 632.5,48.07 633.38,47.24 634.26,46.42 635.14,45.62 636.02,44.83 636.9,44.06 637.77,43.3 638.65,42.54 639.53,41.78 640.41,41.04 641.29,40.3 642.17,39.57 643.05,38.85 643.93,38.13 644.81,37.42 645.69,36.73 646.57,36.03 647.45,35.35 648.33,34.68 649.21,34.01 650.08,33.35 650.96,32.7 651.84,32.05 652.72,31.42 653.6,30.79 654.48,30.17 655.36,29.56 656.24,28.96 657.12,28.37 658,27.79 658.88,27.22 659.76,26.66 660.64,26.11 661.51,25.58 662.39,25.06 663.27,24.54 664.15,24.04 665.03,23.54 665.91,23.04 666.79,22.56 667.67,22.08 668.55,21.6 669.43,21.14 670.31,20.68 671.19,20.22 672.07,19.77 672.94,19.33 673.82,18.89 674.7,18.45 675.58,18.02 676.46,17.6 677.34,17.18 678.22,16.77 679.1,16.37 679.98,15.98 680.86,15.6 681.74,15.22 682.62,14.86 683.5,14.51 684.38,14.18 685.25,13.85 686.13,13.54 687.01,13.24 687.89,12.96 688.77,12.69 689.65,12.44 690.53,12.2 691.41,11.98 692.29,11.77 693.17,11.55 694.05,11.34 694.93,11.13 695.81,10.92 696.68,10.71 697.56,10.5 698.44,10.3 699.32,10.1 700.2,9.91 701.08,9.71 701.96,9.52 702.84,9.33 703.72,9.15 704.6,8.97 705.48,8.79 706.36,8.62 707.24,8.46 708.11,8.29 708.99,8.14 709.87,7.98 710.75,7.84 711.63,7.69 712.51,7.56 713.39,7.42 714.27,7.3 715.15,7.18 716.03,7.07 716.91,6.96 717.79,6.86 718.67,6.77 719.55,6.68 720.42,6.6 721.3,6.53 722.18,6.47 723.06,6.41 723.94,6.36 724.82,6.32 725.7,6.29 726.58,6.26 727.46,6.23 728.34,6.21 729.22,6.18 730.1,6.15 730.98,6.13 731.85,6.1 732.73,6.08 733.61,6.05 734.49,6.03 735.37,6.01 736.25,5.98 737.13,5.96 738.01,5.94 738.89,5.92 739.77,5.9 740.65,5.88 741.53,5.86 742.41,5.84 743.28,5.82 744.16,5.8 745.04,5.78 745.92,5.77 746.8,5.75 747.68,5.73 748.56,5.72 749.44,5.7 750.32,5.69 751.2,5.67 752.08,5.66 752.96,5.64 753.84,5.63 754.72,5.62 755.59,5.61 756.47,5.6 757.35,5.59 758.23,5.58 759.11,5.57 759.99,5.56 760.87,5.55 761.75,5.54 762.63,5.54 763.51,5.53 764.39,5.52 765.27,5.52 766.15,5.52 767.02,5.51 767.9,5.51 768.78,5.5 769.66,5.5 770.54,5.5 771.42,5.5 772.3,5.5" fill="none" stroke="#f5b82a" stroke-width="1.05" stroke-linejoin="round" /><polyline points="772.3,5.5 771.42,5.5 770.54,5.5 769.66,5.5 768.78,5.5 767.9,5.5 767.02,5.5 766.15,5.51 765.27,5.51 764.39,5.51 763.51,5.51 762.63,5.51 761.75,5.52 760.87,5.52 759.99,5.52 759.11,5.53 758.23,5.53 757.35,5.53 756.47,5.54 755.59,5.54 754.72,5.55 753.84,5.55 752.96,5.56 752.08,5.56 751.2,5.57 750.32,5.57 749.44,5.58 748.56,5.59 747.68,5.59 746.8,5.6 745.92,5.6 745.04,5.61 744.16,5.62 743.28,5.63 742.41,5.63 741.53,5.64 740.65,5.65 739.77,5.66 738.89,5.67 738.01,5.68 737.13,5.68 736.25,5.69 735.37,5.7 734.49,5.71 733.61,5.72 732.73,5.73 731.85,5.74 730.98,5.75 730.1,5.76 729.22,5.77 728.34,5.78 727.46,5.79 726.58,5.81 725.7,5.82 724.82,5.83 723.94,5.85 723.06,5.87 722.18,5.9 721.3,5.93 720.42,5.96 719.55,6 718.67,6.04 717.79,6.09 716.91,6.14 716.03,6.19 715.15,6.25 714.27,6.31 713.39,6.37 712.51,6.44 711.63,6.51 710.75,6.59 709.87,6.66 708.99,6.74 708.11,6.82 707.24,6.91 706.36,7 705.48,7.09 704.6,7.18 703.72,7.27 702.84,7.37 701.96,7.47 701.08,7.57 700.2,7.68 699.32,7.78 698.44,7.89 697.56,8 696.68,8.11 695.81,8.23 694.93,8.34 694.05,8.46 693.17,8.58 692.29,8.69 691.41,8.81 690.53,8.94 689.65,9.07 688.77,9.21 687.89,9.36 687.01,9.52 686.13,9.7 685.25,9.88 684.38,10.08 683.5,10.29 682.62,10.5 681.74,10.72 680.86,10.95 679.98,11.19 679.1,11.44 678.22,11.7 677.34,11.96 676.46,12.23 675.58,12.5 674.7,12.79 673.82,13.07 672.94,13.36 672.07,13.66 671.19,13.96 670.31,14.27 669.43,14.58 668.55,14.89 667.67,15.2 666.79,15.52 665.91,15.85 665.03,16.17 664.15,16.5 663.27,16.83 662.39,17.17 661.51,17.52 660.64,17.87 659.76,18.24 658.88,18.62 658,19.01 657.12,19.41 656.24,19.82 655.36,20.24 654.48,20.67 653.6,21.1 652.72,21.54 651.84,22 650.96,22.45 650.08,22.92 649.21,23.39 648.33,23.87 647.45,24.35 646.57,24.84 645.69,25.34 644.81,25.84 643.93,26.34 643.05,26.85 642.17,27.36 641.29,27.87 640.41,28.38 639.53,28.9 638.65,29.42 637.77,29.94 636.9,30.45 636.02,30.97 635.14,31.5 634.26,32.03 633.38,32.57 632.5,33.13 631.62,33.71 630.74,34.31 629.86,34.94 628.98,35.6 628.1,36.29 627.22,37.01 626.34,37.78 625.47,38.61 624.59,39.5 623.71,40.47 622.83,41.49 621.95,42.56 621.07,43.69 620.19,44.86 619.31,46.07 618.43,47.31 617.55,48.58 616.67,49.88 615.79,51.19 614.91,52.53 614.04,53.87 613.16,55.26 612.28,56.69 611.4,58.2 610.52,59.77 609.64,61.43 608.76,63.18 607.88,65.05 607,67.05 606.12,69.17 605.24,71.43 604.36,73.8 603.48,76.27 602.6,78.85 601.73,81.5 600.85,84.29 599.97,87.39 599.09,91.01 598.21,95.67 597.33,101.97 597.33,101.97 598.21,99.78 599.09,97.62 599.97,95.51 600.85,93.46 601.73,91.48 602.6,89.59 603.48,87.76 604.36,85.97 605.24,84.21 606.12,82.49 607,80.81 607.88,79.17 608.76,77.57 609.64,76.03 610.52,74.52 611.4,73.03 612.28,71.56 613.16,70.1 614.04,68.65 614.91,67.2 615.79,65.74 616.67,64.27 617.55,62.8 618.43,61.34 619.31,59.89 620.19,58.47 621.07,57.08 621.95,55.73 622.83,54.43 623.71,53.18 624.59,51.99 625.47,50.88 626.34,49.85 627.22,48.88 628.1,47.96 628.98,47.08 629.86,46.24 630.74,45.42 631.62,44.64 632.5,43.88 633.38,43.14 634.26,42.43 635.14,41.72 636.02,41.03 636.9,40.35 637.77,39.68 638.65,39.01 639.53,38.34 640.41,37.67 641.29,37.01 642.17,36.36 643.05,35.71 643.93,35.07 644.81,34.44 645.69,33.81 646.57,33.19 647.45,32.57 648.33,31.96 649.21,31.36 650.08,30.77 650.96,30.18 651.84,29.61 652.72,29.04 653.6,28.47 654.48,27.92 655.36,27.38 656.24,26.84 657.12,26.32 658,25.8 658.88,25.3 659.76,24.8 660.64,24.32 661.51,23.85 662.39,23.39 663.27,22.94 664.15,22.5 665.03,22.06 665.91,21.62 666.79,21.18 667.67,20.76 668.55,20.33 669.43,19.91 670.31,19.5 671.19,19.09 672.07,18.69 672.94,18.29 673.82,17.89 674.7,17.5 675.58,17.12 676.46,16.74 677.34,16.37 678.22,16.01 679.1,15.66 679.98,15.31 680.86,14.97 681.74,14.64 682.62,14.32 683.5,14.01 684.38,13.71 685.25,13.42 686.13,13.14 687.01,12.88 687.89,12.62 688.77,12.38 689.65,12.15 690.53,11.93 691.41,11.72 692.29,11.52 693.17,11.31 694.05,11.11 694.93,10.91 695.81,10.71 696.68,10.51 697.56,10.32 698.44,10.12 699.32,9.93 700.2,9.74 701.08,9.56 701.96,9.37 702.84,9.19 703.72,9.01 704.6,8.84 705.48,8.67 706.36,8.5 707.24,8.34 708.11,8.19 708.99,8.03 709.87,7.88 710.75,7.74 711.63,7.6 712.51,7.47 713.39,7.34 714.27,7.22 715.15,7.1 716.03,6.99 716.91,6.89 717.79,6.79 718.67,6.7 719.55,6.62 720.42,6.54 721.3,6.47 722.18,6.41 723.06,6.36 723.94,6.31 724.82,6.27 725.7,6.24 726.58,6.21 727.46,6.19 728.34,6.16 729.22,6.14 730.1,6.11 730.98,6.09 731.85,6.07 732.73,6.04 733.61,6.02 734.49,6 735.37,5.98 736.25,5.95 737.13,5.93 738.01,5.91 738.89,5.89 739.77,5.87 740.65,5.85 741.53,5.83 742.41,5.82 743.28,5.8 744.16,5.78 745.04,5.76 745.92,5.75 746.8,5.73 747.68,5.72 748.56,5.7 749.44,5.69 750.32,5.67 751.2,5.66 752.08,5.65 752.96,5.64 753.84,5.62 754.72,5.61 755.59,5.6 756.47,5.59 757.35,5.58 758.23,5.57 759.11,5.56 759.99,5.56 760.87,5.55 761.75,5.54 762.63,5.53 763.51,5.53 764.39,5.52 765.27,5.52 766.15,5.51 767.02,5.51 767.9,5.51 768.78,5.5 769.66,5.5 770.54,5.5 771.42,5.5 772.3,5.5" fill="none" stroke="#f28a2c" stroke-width="1.05" stroke-linejoin="round" /><polyline points="772.3,5.5 771.42,5.5 770.54,5.5 769.66,5.5 768.78,5.5 767.9,5.5 767.02,5.5 766.15,5.5 765.27,5.51 764.39,5.51 763.51,5.51 762.63,5.51 761.75,5.51 760.87,5.52 759.99,5.52 759.11,5.52 758.23,5.52 757.35,5.53 756.47,5.53 755.59,5.53 754.72,5.54 753.84,5.54 752.96,5.55 752.08,5.55 751.2,5.56 750.32,5.56 749.44,5.56 748.56,5.57 747.68,5.57 746.8,5.58 745.92,5.59 745.04,5.59 744.16,5.6 743.28,5.6 742.41,5.61 741.53,5.62 740.65,5.62 739.77,5.63 738.89,5.64 738.01,5.64 737.13,5.65 736.25,5.66 735.37,5.67 734.49,5.67 733.61,5.68 732.73,5.69 731.85,5.7 730.98,5.71 730.1,5.72 729.22,5.72 728.34,5.73 727.46,5.74 726.58,5.75 725.7,5.76 724.82,5.77 723.94,5.79 723.06,5.81 722.18,5.83 721.3,5.86 720.42,5.89 719.55,5.92 718.67,5.96 717.79,6 716.91,6.05 716.03,6.1 715.15,6.15 714.27,6.2 713.39,6.26 712.51,6.32 711.63,6.39 710.75,6.45 709.87,6.52 708.99,6.59 708.11,6.67 707.24,6.74 706.36,6.82 705.48,6.91 704.6,6.99 703.72,7.08 702.84,7.16 701.96,7.26 701.08,7.35 700.2,7.44 699.32,7.54 698.44,7.64 697.56,7.73 696.68,7.84 695.81,7.94 694.93,8.04 694.05,8.15 693.17,8.25 692.29,8.36 691.41,8.47 690.53,8.58 689.65,8.69 688.77,8.82 687.89,8.96 687.01,9.11 686.13,9.26 685.25,9.43 684.38,9.6 683.5,9.79 682.62,9.98 681.74,10.18 680.86,10.38 679.98,10.6 679.1,10.82 678.22,11.05 677.34,11.28 676.46,11.52 675.58,11.77 674.7,12.02 673.82,12.28 672.94,12.54 672.07,12.8 671.19,13.07 670.31,13.34 669.43,13.62 668.55,13.9 667.67,14.18 666.79,14.47 665.91,14.75 665.03,15.04 664.15,15.33 663.27,15.62 662.39,15.91 661.51,16.21 660.64,16.53 659.76,16.85 658.88,17.18 658,17.52 657.12,17.86 656.24,18.22 655.36,18.59 654.48,18.96 653.6,19.34 652.72,19.73 651.84,20.13 650.96,20.53 650.08,20.94 649.21,21.35 648.33,21.77 647.45,22.2 646.57,22.63 645.69,23.06 644.81,23.5 643.93,23.95 643.05,24.39 642.17,24.84 641.29,25.29 640.41,25.75 639.53,26.21 638.65,26.66 637.77,27.12 636.9,27.58 636.02,28.03 635.14,28.49 634.26,28.96 633.38,29.44 632.5,29.93 631.62,30.44 630.74,30.97 629.86,31.53 628.98,32.11 628.1,32.72 627.22,33.38 626.34,34.06 625.47,34.81 624.59,35.63 623.71,36.52 622.83,37.46 621.95,38.45 621.07,39.5 620.19,40.58 619.31,41.7 618.43,42.86 617.55,44.04 616.67,45.24 615.79,46.46 614.91,47.69 614.04,48.92 613.16,50.2 612.28,51.52 611.4,52.91 610.52,54.36 609.64,55.9 608.76,57.52 607.88,59.25 607,61.11 606.12,63.09 605.24,65.2 604.36,67.41 603.48,69.73 602.6,72.14 601.73,74.61 600.85,77.16 599.97,79.99 599.09,83.28 598.21,87.47 597.33,93.03 597.33,93.03 598.21,91.04 599.09,89.09 599.97,87.18 600.85,85.34 601.73,83.58 602.6,81.91 603.48,80.31 604.36,78.76 605.24,77.25 606.12,75.78 607,74.34 607.88,72.94 608.76,71.56 609.64,70.2 610.52,68.86 611.4,67.53 612.28,66.21 613.16,64.9 614.04,63.58 614.91,62.26 615.79,60.91 616.67,59.55 617.55,58.19 618.43,56.82 619.31,55.47 620.19,54.14 621.07,52.83 621.95,51.57 622.83,50.34 623.71,49.18 624.59,48.07 625.47,47.04 626.34,46.09 627.22,45.21 628.1,44.37 628.98,43.57 629.86,42.8 630.74,42.07 631.62,41.36 632.5,40.67 633.38,40.01 634.26,39.37 635.14,38.74 636.02,38.12 636.9,37.5 637.77,36.9 638.65,36.29 639.53,35.68 640.41,35.08 641.29,34.48 642.17,33.88 643.05,33.29 643.93,32.71 644.81,32.13 645.69,31.55 646.57,30.98 647.45,30.42 648.33,29.86 649.21,29.31 650.08,28.77 650.96,28.23 651.84,27.7 652.72,27.18 653.6,26.67 654.48,26.17 655.36,25.67 656.24,25.19 657.12,24.71 658,24.25 658.88,23.79 659.76,23.35 660.64,22.91 661.51,22.49 662.39,22.07 663.27,21.67 664.15,21.27 665.03,20.87 665.91,20.47 666.79,20.08 667.67,19.69 668.55,19.3 669.43,18.92 670.31,18.54 671.19,18.17 672.07,17.8 672.94,17.44 673.82,17.08 674.7,16.72 675.58,16.37 676.46,16.03 677.34,15.7 678.22,15.37 679.1,15.05 679.98,14.73 680.86,14.43 681.74,14.13 682.62,13.84 683.5,13.56 684.38,13.29 685.25,13.02 686.13,12.77 687.01,12.53 687.89,12.29 688.77,12.07 689.65,11.85 690.53,11.65 691.41,11.46 692.29,11.26 693.17,11.07 694.05,10.88 694.93,10.69 695.81,10.49 696.68,10.31 697.56,10.12 698.44,9.93 699.32,9.75 700.2,9.57 701.08,9.39 701.96,9.21 702.84,9.04 703.72,8.87 704.6,8.7 705.48,8.54 706.36,8.38 707.24,8.23 708.11,8.07 708.99,7.93 709.87,7.78 710.75,7.64 711.63,7.51 712.51,7.38 713.39,7.26 714.27,7.14 715.15,7.03 716.03,6.92 716.91,6.82 717.79,6.73 718.67,6.64 719.55,6.56 720.42,6.49 721.3,6.42 722.18,6.36 723.06,6.31 723.94,6.26 724.82,6.23 725.7,6.2 726.58,6.17 727.46,6.15 728.34,6.13 729.22,6.1 730.1,6.08 730.98,6.06 731.85,6.03 732.73,6.01 733.61,5.99 734.49,5.97 735.37,5.95 736.25,5.93 737.13,5.91 738.01,5.89 738.89,5.87 739.77,5.85 740.65,5.83 741.53,5.82 742.41,5.8 743.28,5.78 744.16,5.76 745.04,5.75 745.92,5.73 746.8,5.72 747.68,5.7 748.56,5.69 749.44,5.68 750.32,5.66 751.2,5.65 752.08,5.64 752.96,5.63 753.84,5.62 754.72,5.61 755.59,5.6 756.47,5.59 757.35,5.58 758.23,5.57 759.11,5.56 759.99,5.55 760.87,5.55 761.75,5.54 762.63,5.53 763.51,5.53 764.39,5.52 765.27,5.52 766.15,5.51 767.02,5.51 767.9,5.51 768.78,5.5 769.66,5.5 770.54,5.5 771.42,5.5 772.3,5.5" fill="none" stroke="#e8352b" stroke-width="1.05" stroke-linejoin="round" /><text x="673.15" y="199.2" font-family="'Liberation Serif','Times New Roman',serif" font-size="13.5" text-anchor="middle" fill="#1a1a1a" stroke="#1a1a1a" stroke-width="0.12" font-weight="normal" >Voltage (V)</text><text transform="translate(545.3,87.9) rotate(-90)" font-family="'Liberation Serif','Times New Roman',serif" font-size="13.5" text-anchor="middle" fill="#1a1a1a" stroke="#1a1a1a" stroke-width="0.12">Current (μA)</text><line x1="684.5" y1="55.5" x2="711.8" y2="55.5" stroke="#141414" stroke-width="1.0" /><text x="714.3" y="58.9" font-family="'Liberation Serif','Times New Roman',serif" font-size="11.2" text-anchor="start" fill="#1a1a1a" stroke="#1a1a1a" stroke-width="0.12" font-weight="normal" >1st</text><line x1="684.5" y1="69.5" x2="711.8" y2="69.5" stroke="#2a78d8" stroke-width="1.0" /><text x="714.3" y="73.4" font-family="'Liberation Serif','Times New Roman',serif" font-size="11.2" text-anchor="start" fill="#1a1a1a" stroke="#1a1a1a" stroke-width="0.12" font-weight="normal" >2nd</text><line x1="684.5" y1="84.5" x2="711.8" y2="84.5" stroke="#f5b82a" stroke-width="1.0" /><text x="714.3" y="87.9" font-family="'Liberation Serif','Times New Roman',serif" font-size="11.2" text-anchor="start" fill="#1a1a1a" stroke="#1a1a1a" stroke-width="0.12" font-weight="normal" >3rd</text><line x1="684.5" y1="98.5" x2="711.8" y2="98.5" stroke="#f28a2c" stroke-width="1.0" /><text x="714.3" y="102.4" font-family="'Liberation Serif','Times New Roman',serif" font-size="11.2" text-anchor="start" fill="#1a1a1a" stroke="#1a1a1a" stroke-width="0.12" font-weight="normal" >4th</text><line x1="684.5" y1="113.5" x2="711.8" y2="113.5" stroke="#e8352b" stroke-width="1.0" /><text x="714.3" y="116.9" font-family="'Liberation Serif','Times New Roman',serif" font-size="11.2" text-anchor="start" fill="#1a1a1a" stroke="#1a1a1a" stroke-width="0.12" font-weight="normal" >5th</text><line x1="631.5" y1="104.7" x2="615.28" y2="24.24" stroke="#111" stroke-width="1.2" /><polygon points="613.7,16.4 618.81,25.57 612.54,26.84" fill="#111"/><text x="532.6" y="13.9" font-family="'Liberation Sans',Arial,sans-serif" font-size="14.6" text-anchor="start" fill="#000" stroke="#000" stroke-width="0" font-weight="bold" >C</text><polyline points="63.66,241.97 63.67,251.02 63.68,257.76 63.69,262.8 63.7,266.56 63.71,269.38 63.72,271.49 63.73,273.09 63.74,274.3 63.75,275.22 63.76,275.93 63.77,276.48 63.78,276.91 63.79,277.25 63.8,277.53 63.81,277.76 63.82,277.95 63.83,278.12 63.84,278.27 63.85,278.4 63.86,278.52 63.87,278.64 63.88,278.74 63.89,278.85 63.9,278.94 63.91,279.04 63.92,279.13 63.93,279.23 63.94,279.32 63.95,279.41 63.96,279.5 63.97,279.59 63.98,279.67 63.99,279.76 64,279.85 64.01,279.94 64.02,280.02 64.03,280.11 64.05,280.2 64.06,280.28 64.06,280.28 64.13,280.92 64.21,281.55 64.28,282.17 64.36,282.77 64.43,283.37 64.51,283.96 64.59,284.53 64.66,285.1 64.74,285.66 64.81,286.21 64.89,286.75 64.97,287.28 65.04,287.8 65.12,288.31 65.19,288.82 65.27,289.32 65.34,289.81 65.42,290.29 65.5,290.76 65.57,291.23 65.65,291.69 65.72,292.14 65.8,292.59 65.88,293.02 65.95,293.46 66.03,293.88 66.1,294.3 66.18,294.71 66.25,295.12 66.33,295.51 66.41,295.91 66.48,296.3 66.56,296.68 66.63,297.05 66.71,297.42 66.79,297.79 66.86,298.15 66.94,298.5 67.01,298.85 67.09,299.19 67.16,299.53 67.24,299.87 67.32,300.2 67.39,300.52 67.47,300.84 67.54,301.16 67.62,301.47 67.7,301.78 67.77,302.08 67.85,302.38 67.92,302.67 68,302.96 68.08,303.25 68.15,303.53 68.23,303.81 68.3,304.08 68.38,304.36 68.45,304.62 68.53,304.89 68.61,305.15 68.68,305.41 68.76,305.66 68.83,305.91 68.91,306.16 68.99,306.41 69.06,306.65 69.14,306.89 69.21,307.12 69.29,307.36 69.36,307.59 69.44,307.81 69.52,308.04 69.59,308.26 69.67,308.48 69.74,308.7 69.82,308.91 69.9,309.12 69.97,309.33 70.05,309.54 70.12,309.74 70.2,309.95 70.27,310.15 70.35,310.35 70.43,310.54 70.5,310.74 70.58,310.93 70.65,311.12 70.73,311.3 70.81,311.49 70.88,311.67 70.96,311.86 71.03,312.04 71.11,312.21 71.18,312.39 71.26,312.56 71.34,312.74 71.41,312.91 71.49,313.08 71.56,313.25 71.56,313.25 72.32,314.83 73.07,316.29 73.83,317.63 74.58,318.88 75.34,320.06 76.09,321.16 76.85,322.21 77.6,323.22 78.36,324.18 79.11,325.1 79.87,325.99 80.62,326.86 81.37,327.69 82.13,328.51 82.88,329.31 83.64,330.08 84.39,330.84 85.15,331.59 85.9,332.32 86.66,333.03 87.41,333.73 88.17,334.42 88.92,335.1 89.68,335.77 90.43,336.42 91.18,337.06 91.94,337.7 92.69,338.32 93.45,338.93 94.2,339.54 94.96,340.13 95.71,340.71 96.47,341.29 97.22,341.85 97.98,342.41 98.73,342.96 99.49,343.5 100.24,344.03 101,344.56 101.75,345.07 102.5,345.58 103.26,346.08 104.01,346.57 104.77,347.06 105.52,347.53 106.28,348 107.03,348.47 107.79,348.92 108.54,349.37 109.3,349.81 110.05,350.25 110.81,350.68 111.56,351.1 112.32,351.52 113.07,351.93 113.82,352.33 114.58,352.73 115.33,353.12 116.09,353.5 116.84,353.88 117.6,354.25 118.35,354.62 119.11,354.98 119.86,355.34 120.62,355.69 121.37,356.04 122.13,356.38 122.88,356.71 123.64,357.04 124.39,357.37 125.14,357.69 125.9,358 126.65,358.31 127.41,358.62 128.16,358.92 128.92,359.21 129.67,359.51 130.43,359.79 131.18,360.08 131.94,360.36 132.69,360.63 133.45,360.9 134.2,361.17 134.95,361.43 135.71,361.69 136.46,361.94 137.22,362.19 137.97,362.44 138.73,362.68 139.48,362.92 140.24,363.15 140.99,363.39 141.75,363.61 142.5,363.84 143.26,364.06 144.01,364.28 144.77,364.49 145.52,364.7 146.27,364.91 147.03,365.12 147.78,365.32 148.54,365.52 149.29,365.71 150.05,365.91 150.8,366.1 151.56,366.28 152.31,366.47 153.07,366.65 153.82,366.83 154.58,367 155.33,367.17 156.09,367.34 156.84,367.51 157.59,367.68 158.35,367.84 159.1,368 159.86,368.16 160.61,368.31 161.37,368.47 162.12,368.62 162.88,368.77 163.63,368.91 164.39,369.06 165.14,369.2 165.9,369.34 166.65,369.47 167.4,369.61 168.16,369.74 168.91,369.87 169.67,370 170.42,370.13 171.18,370.26 171.93,370.38 172.69,370.5 173.44,370.62 174.2,370.74 174.95,370.85 175.71,370.97 176.46,371.08 177.22,371.19 177.97,371.3 178.72,371.41 179.48,371.51 180.23,371.62 180.99,371.72 181.74,371.82 182.5,371.92 183.25,372.02 184.01,372.12 184.76,372.21 185.52,372.3 186.27,372.4 187.03,372.49 187.78,372.58 188.54,372.66 189.29,372.75 190.04,372.84 190.8,372.92 191.55,373 192.31,373.08 193.06,373.16 193.82,373.24 194.57,373.32 195.33,373.4 196.08,373.47 196.84,373.55 197.59,373.62 198.35,373.69 199.1,373.76 199.86,373.83 200.61,373.9 201.36,373.97 202.12,374.04 202.87,374.1 203.63,374.17 204.38,374.23 205.14,374.29 205.89,374.36 206.65,374.42 207.4,374.48 208.16,374.53 208.91,374.59 209.67,374.65 210.42,374.71 211.17,374.76 211.93,374.82 212.68,374.87 213.44,374.92 214.19,374.98 214.95,375.03 215.7,375.08 216.46,375.13 217.21,375.18 217.97,375.22 218.72,375.27 219.48,375.32 220.23,375.37 220.99,375.41 221.74,375.46" fill="none" stroke="#7f55dd" stroke-width="1.3" stroke-linejoin="round" /><circle cx="63.42" cy="238.13" r="2.7" fill="url(#g0)"/><circle cx="64" cy="276.83" r="2.7" fill="url(#g0)"/><circle cx="64.61" cy="280.58" r="2.7" fill="url(#g0)"/><circle cx="65.87" cy="287.08" r="2.7" fill="url(#g0)"/><circle cx="67.37" cy="289.64" r="2.7" fill="url(#g0)"/><circle cx="71.41" cy="321.57" r="2.7" fill="url(#g0)"/><circle cx="79.07" cy="326.15" r="2.7" fill="url(#g0)"/><circle cx="95.43" cy="337.59" r="2.7" fill="url(#g0)"/><circle cx="126.73" cy="358.27" r="2.7" fill="url(#g0)"/><circle cx="181.67" cy="372.27" r="2.7" fill="url(#g0)"/><circle cx="221.82" cy="374.28" r="2.7" fill="url(#g0)"/><line x1="83.42" y1="390.2" x2="83.42" y2="387.6" stroke="#1a1a1a" stroke-width="1.1" /><line x1="122.94" y1="390.2" x2="122.94" y2="387.6" stroke="#1a1a1a" stroke-width="1.1" /><line x1="162.46" y1="390.2" x2="162.46" y2="387.6" stroke="#1a1a1a" stroke-width="1.1" /><line x1="201.98" y1="390.2" x2="201.98" y2="387.6" stroke="#1a1a1a" stroke-width="1.1" /><line x1="63.66" y1="390.2" x2="63.66" y2="385.2" stroke="#1a1a1a" stroke-width="1.1" /><line x1="103.18" y1="390.2" x2="103.18" y2="385.2" stroke="#1a1a1a" stroke-width="1.1" /><line x1="142.7" y1="390.2" x2="142.7" y2="385.2" stroke="#1a1a1a" stroke-width="1.1" /><line x1="182.22" y1="390.2" x2="182.22" y2="385.2" stroke="#1a1a1a" stroke-width="1.1" /><line x1="221.74" y1="390.2" x2="221.74" y2="385.2" stroke="#1a1a1a" stroke-width="1.1" /><line x1="43.9" y1="362.75" x2="46.5" y2="362.75" stroke="#1a1a1a" stroke-width="1.1" /><line x1="43.9" y1="326.15" x2="46.5" y2="326.15" stroke="#1a1a1a" stroke-width="1.1" /><line x1="43.9" y1="289.55" x2="46.5" y2="289.55" stroke="#1a1a1a" stroke-width="1.1" /><line x1="43.9" y1="252.95" x2="46.5" y2="252.95" stroke="#1a1a1a" stroke-width="1.1" /><line x1="43.9" y1="381.05" x2="48.9" y2="381.05" stroke="#1a1a1a" stroke-width="1.1" /><line x1="43.9" y1="344.45" x2="48.9" y2="344.45" stroke="#1a1a1a" stroke-width="1.1" /><line x1="43.9" y1="307.85" x2="48.9" y2="307.85" stroke="#1a1a1a" stroke-width="1.1" /><line x1="43.9" y1="271.25" x2="48.9" y2="271.25" stroke="#1a1a1a" stroke-width="1.1" /><line x1="43.9" y1="234.65" x2="48.9" y2="234.65" stroke="#1a1a1a" stroke-width="1.1" /><rect x="43.9" y="225.5" width="197.6" height="164.7" fill="none" stroke="#1a1a1a" stroke-width="1.3"/><text x="63.66" y="403.5" font-family="'Liberation Serif','Times New Roman',serif" font-size="11.1" text-anchor="middle" fill="#1a1a1a" stroke="#1a1a1a" stroke-width="0.12" font-weight="normal" >0</text><text x="103.18" y="403.5" font-family="'Liberation Serif','Times New Roman',serif" font-size="11.1" text-anchor="middle" fill="#1a1a1a" stroke="#1a1a1a" stroke-width="0.12" font-weight="normal" >500</text><text x="142.7" y="403.5" font-family="'Liberation Serif','Times New Roman',serif" font-size="11.1" text-anchor="middle" fill="#1a1a1a" stroke="#1a1a1a" stroke-width="0.12" font-weight="normal" >1000</text><text x="182.22" y="403.5" font-family="'Liberation Serif','Times New Roman',serif" font-size="11.1" text-anchor="middle" fill="#1a1a1a" stroke="#1a1a1a" stroke-width="0.12" font-weight="normal" >1500</text><text x="221.74" y="403.5" font-family="'Liberation Serif','Times New Roman',serif" font-size="11.1" text-anchor="middle" fill="#1a1a1a" stroke="#1a1a1a" stroke-width="0.12" font-weight="normal" >2000</text><text x="39.1" y="384.75" font-family="'Liberation Serif','Times New Roman',serif" font-size="11.1" text-anchor="end" fill="#1a1a1a" stroke="#1a1a1a" stroke-width="0.12" font-weight="normal" >4</text><text x="39.1" y="348.15" font-family="'Liberation Serif','Times New Roman',serif" font-size="11.1" text-anchor="end" fill="#1a1a1a" stroke="#1a1a1a" stroke-width="0.12" font-weight="normal" >8</text><text x="39.1" y="311.55" font-family="'Liberation Serif','Times New Roman',serif" font-size="11.1" text-anchor="end" fill="#1a1a1a" stroke="#1a1a1a" stroke-width="0.12" font-weight="normal" >12</text><text x="39.1" y="274.95" font-family="'Liberation Serif','Times New Roman',serif" font-size="11.1" text-anchor="end" fill="#1a1a1a" stroke="#1a1a1a" stroke-width="0.12" font-weight="normal" >16</text><text x="39.1" y="238.35" font-family="'Liberation Serif','Times New Roman',serif" font-size="11.1" text-anchor="end" fill="#1a1a1a" stroke="#1a1a1a" stroke-width="0.12" font-weight="normal" >20</text><text x="142.7" y="423.6" font-family="'Liberation Serif','Times New Roman',serif" font-size="13.5" text-anchor="middle" fill="#1a1a1a" stroke="#1a1a1a" stroke-width="0.12" font-weight="normal" >Δ<tspan font-style="italic">t</tspan> (ms)</text><text transform="translate(19.6,297.8) rotate(-90)" font-family="'Liberation Serif','Times New Roman',serif" font-size="13.5" text-anchor="middle" fill="#1a1a1a" stroke="#1a1a1a" stroke-width="0.12">PPF (%)</text><circle cx="149.6" cy="245.4" r="2.4" fill="url(#g0)"/><text x="165.9" y="249.1" font-family="'Liberation Serif','Times New Roman',serif" font-size="11.4" text-anchor="start" fill="#1a1a1a" stroke="#1a1a1a" stroke-width="0.12" font-weight="normal" >Potentiation</text><line x1="136" y1="259.4" x2="162.9" y2="259.4" stroke="#7f55dd" stroke-width="1.3" /><text x="165.9" y="263.1" font-family="'Liberation Serif','Times New Roman',serif" font-size="11.4" text-anchor="start" fill="#1a1a1a" stroke="#1a1a1a" stroke-width="0.12" font-weight="normal" >Fitting</text><polyline points="126.2,314.9 145.9,314.9 145.9,289.8 162.2,289.8 162.2,314.9 181.4,314.9 181.4,289.8 197.3,289.8 197.3,314.9 217,314.9" fill="none" stroke="#7f55dd" stroke-width="1.2" stroke-linejoin="round" stroke-linejoin="miter"/><text x="122.2" y="305.3" font-family="'Liberation Serif','Times New Roman',serif" font-size="11.4" text-anchor="start" fill="#7f55dd" stroke="#7f55dd" stroke-width="0.12" font-weight="normal" >4 V</text><text x="165.9" y="326" font-family="'Liberation Serif','Times New Roman',serif" font-size="11.4" text-anchor="start" fill="#1a1a1a" stroke="#1a1a1a" stroke-width="0.12" font-weight="normal" >Δ<tspan font-style="italic">t</tspan></text><text x="1.6" y="234.1" font-family="'Liberation Sans',Arial,sans-serif" font-size="14.6" text-anchor="start" fill="#000" stroke="#000" stroke-width="0" font-weight="bold" >D</text><polyline points="325.47,381.22 325.49,377.26 325.52,373.51 325.55,369.97 325.58,366.62 325.61,363.45 325.63,360.44 325.66,357.59 325.69,354.9 325.72,352.34 325.75,349.91 325.77,347.6 325.8,345.41 325.83,343.32 325.86,341.34 325.89,339.45 325.91,337.66 325.94,335.94 325.97,334.31 326,332.76 326.02,331.27 326.05,329.85 326.08,328.49 326.11,327.2 326.14,325.96 326.16,324.77 326.19,323.63 326.22,322.54 326.25,321.49 326.28,320.49 326.3,319.52 326.33,318.59 326.36,317.7 326.39,316.84 326.42,316.02 326.44,315.22 326.47,314.45 326.5,313.71 326.53,313 326.56,312.31 326.58,311.64 326.61,311 326.64,310.38 326.67,309.77 326.69,309.19 326.72,308.62 326.75,308.07 326.78,307.54 326.81,307.03 326.83,306.52 326.86,306.04 326.89,305.56 326.92,305.1 326.95,304.66 326.97,304.22 327,303.8 327.03,303.38 327.06,302.98 327.09,302.59 327.11,302.21 327.11,302.21 327.26,300.31 327.41,298.63 327.56,297.13 327.71,295.79 327.86,294.58 328.01,293.47 328.16,292.47 328.31,291.54 328.46,290.69 328.61,289.9 328.76,289.17 328.91,288.49 329.06,287.86 329.21,287.26 329.36,286.7 329.51,286.17 329.66,285.67 329.81,285.2 329.96,284.75 330.11,284.32 330.26,283.92 330.41,283.52 330.56,283.15 330.71,282.78 330.86,282.43 331.01,282.1 331.16,281.77 331.3,281.45 331.45,281.14 331.6,280.84 331.75,280.54 331.9,280.26 332.05,279.98 332.2,279.7 332.35,279.43 332.5,279.17 332.65,278.91 332.8,278.65 332.95,278.4 333.1,278.15 333.25,277.9 333.4,277.66 333.55,277.42 333.7,277.19 333.85,276.96 334,276.72 334.15,276.5 334.3,276.27 334.45,276.05 334.6,275.83 334.75,275.61 334.9,275.39 335.05,275.18 335.2,274.97 335.35,274.76 335.5,274.55 335.65,274.34 335.8,274.13 335.95,273.93 336.1,273.73 336.24,273.53 336.39,273.33 336.54,273.13 336.69,272.94 336.84,272.74 336.99,272.55 337.14,272.36 337.29,272.17 337.44,271.98 337.59,271.8 337.74,271.61 337.89,271.43 338.04,271.25 338.19,271.07 338.34,270.89 338.49,270.71 338.64,270.53 338.79,270.36 338.94,270.18 339.09,270.01 339.24,269.84 339.39,269.67 339.54,269.5 339.69,269.33 339.84,269.16 339.99,269 340.14,268.83 340.29,268.67 340.44,268.51 340.59,268.35 340.74,268.19 340.89,268.03 341.04,267.87 341.18,267.72 341.33,267.56 341.48,267.41 341.63,267.26 341.78,267.1 341.93,266.95 341.93,266.95 342.68,266.22 343.42,265.52 344.17,264.83 344.91,264.18 345.66,263.55 346.4,262.93 347.15,262.35 347.89,261.78 348.64,261.23 349.38,260.7 350.13,260.19 350.87,259.7 351.61,259.23 352.36,258.77 353.1,258.33 353.85,257.91 354.59,257.5 355.34,257.1 356.08,256.72 356.83,256.36 357.57,256 358.32,255.66 359.06,255.33 359.81,255.02 360.55,254.71 361.3,254.41 362.04,254.13 362.79,253.86 363.53,253.59 364.28,253.34 365.02,253.09 365.76,252.85 366.51,252.62 367.25,252.4 368,252.19 368.74,251.98 369.49,251.79 370.23,251.6 370.98,251.41 371.72,251.23 372.47,251.06 373.21,250.9 373.96,250.74 374.7,250.59 375.45,250.44 376.19,250.29 376.94,250.16 377.68,250.02 378.42,249.9 379.17,249.77 379.91,249.65 380.66,249.54 381.4,249.43 382.15,249.32 382.89,249.22 383.64,249.12 384.38,249.02 385.13,248.93 385.87,248.84 386.62,248.76 387.36,248.67 388.11,248.59 388.85,248.52 389.6,248.44 390.34,248.37 391.09,248.3 391.83,248.24 392.57,248.17 393.32,248.11 394.06,248.05 394.81,247.99 395.55,247.94 396.3,247.88 397.04,247.83 397.79,247.78 398.53,247.73 399.28,247.69 400.02,247.64 400.77,247.6 401.51,247.56 402.26,247.52 403,247.48 403.75,247.44 404.49,247.41 405.23,247.37 405.98,247.34 406.72,247.31 407.47,247.28 408.21,247.25 408.96,247.22 409.7,247.19 410.45,247.16 411.19,247.14 411.94,247.11 412.68,247.09 413.43,247.06 414.17,247.04 414.92,247.02 415.66,247 416.41,246.98 417.15,246.96 417.9,246.94 418.64,246.92 419.38,246.91 420.13,246.89 420.87,246.87 421.62,246.86 422.36,246.84 423.11,246.83 423.85,246.81 424.6,246.8 425.34,246.79 426.09,246.78 426.83,246.76 427.58,246.75 428.32,246.74 429.07,246.73 429.81,246.72 430.56,246.71 431.3,246.7 432.04,246.69 432.79,246.68 433.53,246.67 434.28,246.66 435.02,246.66 435.77,246.65 436.51,246.64 437.26,246.63 438,246.63 438.75,246.62 439.49,246.61 440.24,246.61 440.98,246.6 441.73,246.6 442.47,246.59 443.22,246.58 443.96,246.58 444.71,246.57 445.45,246.57 446.19,246.56 446.94,246.56 447.68,246.56 448.43,246.55 449.17,246.55 449.92,246.54 450.66,246.54 451.41,246.54 452.15,246.53 452.9,246.53 453.64,246.53 454.39,246.52 455.13,246.52 455.88,246.52 456.62,246.51 457.37,246.51 458.11,246.51 458.85,246.51 459.6,246.5 460.34,246.5 461.09,246.5 461.83,246.5 462.58,246.49 463.32,246.49 464.07,246.49 464.81,246.49 465.56,246.49 466.3,246.49 467.05,246.48 467.79,246.48 468.54,246.48 469.28,246.48 470.03,246.48 470.77,246.48 471.52,246.47 472.26,246.47 473,246.47 473.75,246.47 474.49,246.47 475.24,246.47 475.98,246.47 476.73,246.47 477.47,246.47 478.22,246.46 478.96,246.46 479.71,246.46 480.45,246.46 481.2,246.46 481.94,246.46 482.69,246.46 483.43,246.46 484.18,246.46 484.92,246.46 485.66,246.46 486.41,246.46 487.15,246.46 487.9,246.45 488.64,246.45 489.39,246.45 490.13,246.45" fill="none" stroke="#dc4678" stroke-width="1.3" stroke-linejoin="round" /><circle cx="325.2" cy="375.08" r="2.7" fill="url(#g1)"/><circle cx="326.9" cy="306.35" r="2.7" fill="url(#g1)"/><circle cx="330.19" cy="286.89" r="2.7" fill="url(#g1)"/><circle cx="333.29" cy="279.85" r="2.7" fill="url(#g1)"/><circle cx="341.44" cy="265.63" r="2.7" fill="url(#g1)"/><circle cx="349.84" cy="265.48" r="2.7" fill="url(#g1)"/><circle cx="358.07" cy="257.24" r="2.7" fill="url(#g1)"/><circle cx="391.17" cy="250.06" r="2.7" fill="url(#g1)"/><circle cx="423.94" cy="248.26" r="2.7" fill="url(#g1)"/><circle cx="489.97" cy="244.96" r="2.7" fill="url(#g1)"/><line x1="341.93" y1="390.2" x2="341.93" y2="387.6" stroke="#1a1a1a" stroke-width="1.1" /><line x1="374.87" y1="390.2" x2="374.87" y2="387.6" stroke="#1a1a1a" stroke-width="1.1" /><line x1="407.8" y1="390.2" x2="407.8" y2="387.6" stroke="#1a1a1a" stroke-width="1.1" /><line x1="440.73" y1="390.2" x2="440.73" y2="387.6" stroke="#1a1a1a" stroke-width="1.1" /><line x1="473.67" y1="390.2" x2="473.67" y2="387.6" stroke="#1a1a1a" stroke-width="1.1" /><line x1="325.47" y1="390.2" x2="325.47" y2="385.2" stroke="#1a1a1a" stroke-width="1.1" /><line x1="358.4" y1="390.2" x2="358.4" y2="385.2" stroke="#1a1a1a" stroke-width="1.1" /><line x1="391.33" y1="390.2" x2="391.33" y2="385.2" stroke="#1a1a1a" stroke-width="1.1" /><line x1="424.27" y1="390.2" x2="424.27" y2="385.2" stroke="#1a1a1a" stroke-width="1.1" /><line x1="457.2" y1="390.2" x2="457.2" y2="385.2" stroke="#1a1a1a" stroke-width="1.1" /><line x1="490.13" y1="390.2" x2="490.13" y2="385.2" stroke="#1a1a1a" stroke-width="1.1" /><line x1="309" y1="382.71" x2="311.6" y2="382.71" stroke="#1a1a1a" stroke-width="1.1" /><line x1="309" y1="337.8" x2="311.6" y2="337.8" stroke="#1a1a1a" stroke-width="1.1" /><line x1="309" y1="292.88" x2="311.6" y2="292.88" stroke="#1a1a1a" stroke-width="1.1" /><line x1="309" y1="247.96" x2="311.6" y2="247.96" stroke="#1a1a1a" stroke-width="1.1" /><line x1="309" y1="360.25" x2="314" y2="360.25" stroke="#1a1a1a" stroke-width="1.1" /><line x1="309" y1="315.34" x2="314" y2="315.34" stroke="#1a1a1a" stroke-width="1.1" /><line x1="309" y1="270.42" x2="314" y2="270.42" stroke="#1a1a1a" stroke-width="1.1" /><line x1="309" y1="225.5" x2="314" y2="225.5" stroke="#1a1a1a" stroke-width="1.1" /><rect x="309" y="225.5" width="197.6" height="164.7" fill="none" stroke="#1a1a1a" stroke-width="1.3"/><text x="325.47" y="403.5" font-family="'Liberation Serif','Times New Roman',serif" font-size="11.1" text-anchor="middle" fill="#1a1a1a" stroke="#1a1a1a" stroke-width="0.12" font-weight="normal" >0</text><text x="358.4" y="403.5" font-family="'Liberation Serif','Times New Roman',serif" font-size="11.1" text-anchor="middle" fill="#1a1a1a" stroke="#1a1a1a" stroke-width="0.12" font-weight="normal" >200</text><text x="391.33" y="403.5" font-family="'Liberation Serif','Times New Roman',serif" font-size="11.1" text-anchor="middle" fill="#1a1a1a" stroke="#1a1a1a" stroke-width="0.12" font-weight="normal" >400</text><text x="424.27" y="403.5" font-family="'Liberation Serif','Times New Roman',serif" font-size="11.1" text-anchor="middle" fill="#1a1a1a" stroke="#1a1a1a" stroke-width="0.12" font-weight="normal" >600</text><text x="457.2" y="403.5" font-family="'Liberation Serif','Times New Roman',serif" font-size="11.1" text-anchor="middle" fill="#1a1a1a" stroke="#1a1a1a" stroke-width="0.12" font-weight="normal" >800</text><text x="490.13" y="403.5" font-family="'Liberation Serif','Times New Roman',serif" font-size="11.1" text-anchor="middle" fill="#1a1a1a" stroke="#1a1a1a" stroke-width="0.12" font-weight="normal" >1000</text><text x="303.2" y="363.95" font-family="'Liberation Serif','Times New Roman',serif" font-size="11.1" text-anchor="end" fill="#1a1a1a" stroke="#1a1a1a" stroke-width="0.12" font-weight="normal" >–12</text><text x="303.2" y="319.04" font-family="'Liberation Serif','Times New Roman',serif" font-size="11.1" text-anchor="end" fill="#1a1a1a" stroke="#1a1a1a" stroke-width="0.12" font-weight="normal" >–9</text><text x="303.2" y="274.12" font-family="'Liberation Serif','Times New Roman',serif" font-size="11.1" text-anchor="end" fill="#1a1a1a" stroke="#1a1a1a" stroke-width="0.12" font-weight="normal" >–6</text><text x="303.2" y="229.2" font-family="'Liberation Serif','Times New Roman',serif" font-size="11.1" text-anchor="end" fill="#1a1a1a" stroke="#1a1a1a" stroke-width="0.12" font-weight="normal" >–3</text><text x="407.8" y="423.6" font-family="'Liberation Serif','Times New Roman',serif" font-size="13.5" text-anchor="middle" fill="#1a1a1a" stroke="#1a1a1a" stroke-width="0.12" font-weight="normal" >Δ<tspan font-style="italic">t</tspan> (ms)</text><text transform="translate(281.4,297.5) rotate(-90)" font-family="'Liberation Serif','Times New Roman',serif" font-size="13.5" text-anchor="middle" fill="#1a1a1a" stroke="#1a1a1a" stroke-width="0.12">PPD (%)</text><circle cx="419.5" cy="353.5" r="2.4" fill="url(#g1)"/><text x="436.2" y="357.1" font-family="'Liberation Serif','Times New Roman',serif" font-size="11.4" text-anchor="start" fill="#1a1a1a" stroke="#1a1a1a" stroke-width="0.12" font-weight="normal" >Depression</text><line x1="406.1" y1="368" x2="433.1" y2="368" stroke="#dc4678" stroke-width="1.3" /><text x="436.2" y="371.2" font-family="'Liberation Serif','Times New Roman',serif" font-size="11.4" text-anchor="start" fill="#1a1a1a" stroke="#1a1a1a" stroke-width="0.12" font-weight="normal" >Fitting</text><polyline points="385.6,295.3 405.5,295.3 405.5,311.2 421.4,311.2 421.4,295.3 440.4,295.3 440.4,311.2 457.3,311.2 457.3,295.3 476.7,295.3" fill="none" stroke="#dc4678" stroke-width="1.2" stroke-linejoin="round" stroke-linejoin="miter"/><text x="377" y="309.3" font-family="'Liberation Serif','Times New Roman',serif" font-size="11.4" text-anchor="start" fill="#dc4678" stroke="#dc4678" stroke-width="0.12" font-weight="normal" >–1 V</text><text x="426.9" y="291.2" font-family="'Liberation Serif','Times New Roman',serif" font-size="11.4" text-anchor="start" fill="#1a1a1a" stroke="#1a1a1a" stroke-width="0.12" font-weight="normal" >Δ<tspan font-style="italic">t</tspan></text><text x="270.6" y="234.1" font-family="'Liberation Sans',Arial,sans-serif" font-size="14.6" text-anchor="start" fill="#000" stroke="#000" stroke-width="0" font-weight="bold" >E</text><polyline points="593.83,377.53 594.62,366.31 595.42,357.86 596.21,351.08 597,345.42 597.8,340.56 598.59,336.29 599.38,332.5 600.18,329.09 600.97,325.98 601.76,323.13 602.56,320.5 603.35,318.05 604.14,315.77 604.93,313.63 605.73,311.61 606.52,309.7 607.31,307.9 608.11,306.18 608.9,304.55 609.69,302.99 610.49,301.5 611.28,300.07 612.07,298.69 612.87,297.37 613.66,296.1 614.45,294.87 615.25,293.69 616.04,292.54 616.83,291.43 617.63,290.36 618.42,289.32 619.21,288.31 620.01,287.33 620.8,286.37 621.59,285.44 622.39,284.54 623.18,283.66 623.97,282.8 624.76,281.96 625.56,281.14 626.35,280.34 627.14,279.56 627.94,278.79 628.73,278.04 629.52,277.31 630.32,276.6 631.11,275.89 631.9,275.21 632.7,274.53 633.49,273.87 634.28,273.22 635.08,272.58 635.87,271.96 636.66,271.34 637.46,270.74 638.25,270.15 639.04,269.56 639.84,268.99 640.63,268.42 641.42,267.87 642.22,267.32 643.01,266.79 643.8,266.26 644.59,265.73 645.39,265.22 646.18,264.71 646.97,264.22 647.77,263.72 648.56,263.24 649.35,262.76 650.15,262.29 650.94,261.82 651.73,261.37 652.53,260.91 653.32,260.47 654.11,260.02 654.91,259.59 655.7,259.16 656.49,258.73 657.29,258.31 658.08,257.9 658.87,257.49 659.67,257.08 660.46,256.68 661.25,256.29 662.05,255.9 662.84,255.51 663.63,255.13 664.42,254.75 665.22,254.37 666.01,254 666.8,253.64 667.6,253.27 668.39,252.92 669.18,252.56 669.98,252.21 670.77,251.86 671.56,251.52 672.36,251.18 673.15,250.84" fill="none" stroke="#22aaa8" stroke-width="1.1" stroke-linejoin="round" /><polyline points="673.15,250.84 673.94,262.06 674.74,270.51 675.53,277.29 676.32,282.95 677.12,287.81 677.91,292.07 678.7,295.87 679.5,299.28 680.29,302.39 681.08,305.24 681.88,307.87 682.67,310.32 683.46,312.6 684.25,314.74 685.05,316.76 685.84,318.67 686.63,320.47 687.43,322.19 688.22,323.82 689.01,325.38 689.81,326.87 690.6,328.3 691.39,329.68 692.19,331 692.98,332.27 693.77,333.5 694.57,334.68 695.36,335.83 696.15,336.93 696.95,338.01 697.74,339.05 698.53,340.06 699.33,341.04 700.12,342 700.91,342.93 701.71,343.83 702.5,344.71 703.29,345.57 704.08,346.41 704.88,347.23 705.67,348.03 706.46,348.81 707.26,349.58 708.05,350.32 708.84,351.06 709.64,351.77 710.43,352.48 711.22,353.16 712.02,353.84 712.81,354.5 713.6,355.15 714.4,355.79 715.19,356.41 715.98,357.03 716.78,357.63 717.57,358.22 718.36,358.81 719.16,359.38 719.95,359.94 720.74,360.5 721.54,361.05 722.33,361.58 723.12,362.11 723.91,362.63 724.71,363.15 725.5,363.65 726.29,364.15 727.09,364.65 727.88,365.13 728.67,365.61 729.47,366.08 730.26,366.54 731.05,367 731.85,367.46 732.64,367.9 733.43,368.35 734.23,368.78 735.02,369.21 735.81,369.64 736.61,370.06 737.4,370.47 738.19,370.88 738.99,371.29 739.78,371.69 740.57,372.08 741.37,372.47 742.16,372.86 742.95,373.24 743.74,373.62 744.54,374 745.33,374.37 746.12,374.73 746.92,375.09 747.71,375.45 748.5,375.81 749.3,376.16 750.09,376.51 750.88,376.85 751.68,377.19 752.47,377.53" fill="none" stroke="#ea5858" stroke-width="1.1" stroke-linejoin="round" /><circle cx="593.83" cy="377.53" r="2.75" fill="url(#g2)"/><circle cx="594.62" cy="366.31" r="2.75" fill="url(#g2)"/><circle cx="595.42" cy="357.86" r="2.75" fill="url(#g2)"/><circle cx="596.21" cy="351.08" r="2.75" fill="url(#g2)"/><circle cx="597" cy="345.42" r="2.75" fill="url(#g2)"/><circle cx="597.8" cy="340.56" r="2.75" fill="url(#g2)"/><circle cx="598.59" cy="336.29" r="2.75" fill="url(#g2)"/><circle cx="599.38" cy="332.5" r="2.75" fill="url(#g2)"/><circle cx="600.18" cy="329.09" r="2.75" fill="url(#g2)"/><circle cx="600.97" cy="325.98" r="2.75" fill="url(#g2)"/><circle cx="601.76" cy="323.13" r="2.75" fill="url(#g2)"/><circle cx="602.56" cy="320.5" r="2.75" fill="url(#g2)"/><circle cx="603.35" cy="318.05" r="2.75" fill="url(#g2)"/><circle cx="604.14" cy="315.77" r="2.75" fill="url(#g2)"/><circle cx="604.93" cy="313.63" r="2.75" fill="url(#g2)"/><circle cx="605.73" cy="311.61" r="2.75" fill="url(#g2)"/><circle cx="606.52" cy="309.7" r="2.75" fill="url(#g2)"/><circle cx="607.31" cy="307.9" r="2.75" fill="url(#g2)"/><circle cx="608.11" cy="306.18" r="2.75" fill="url(#g2)"/><circle cx="608.9" cy="304.55" r="2.75" fill="url(#g2)"/><circle cx="609.69" cy="302.99" r="2.75" fill="url(#g2)"/><circle cx="610.49" cy="301.5" r="2.75" fill="url(#g2)"/><circle cx="611.28" cy="300.07" r="2.75" fill="url(#g2)"/><circle cx="612.07" cy="298.69" r="2.75" fill="url(#g2)"/><circle cx="612.87" cy="297.37" r="2.75" fill="url(#g2)"/><circle cx="613.66" cy="296.1" r="2.75" fill="url(#g2)"/><circle cx="614.45" cy="294.87" r="2.75" fill="url(#g2)"/><circle cx="615.25" cy="293.69" r="2.75" fill="url(#g2)"/><circle cx="616.04" cy="292.54" r="2.75" fill="url(#g2)"/><circle cx="616.83" cy="291.43" r="2.75" fill="url(#g2)"/><circle cx="617.63" cy="290.36" r="2.75" fill="url(#g2)"/><circle cx="618.42" cy="289.32" r="2.75" fill="url(#g2)"/><circle cx="619.21" cy="288.31" r="2.75" fill="url(#g2)"/><circle cx="620.01" cy="287.33" r="2.75" fill="url(#g2)"/><circle cx="620.8" cy="286.37" r="2.75" fill="url(#g2)"/><circle cx="621.59" cy="285.44" r="2.75" fill="url(#g2)"/><circle cx="622.39" cy="284.54" r="2.75" fill="url(#g2)"/><circle cx="623.18" cy="283.66" r="2.75" fill="url(#g2)"/><circle cx="623.97" cy="282.8" r="2.75" fill="url(#g2)"/><circle cx="624.76" cy="281.96" r="2.75" fill="url(#g2)"/><circle cx="625.56" cy="281.14" r="2.75" fill="url(#g2)"/><circle cx="626.35" cy="280.34" r="2.75" fill="url(#g2)"/><circle cx="627.14" cy="279.56" r="2.75" fill="url(#g2)"/><circle cx="627.94" cy="278.79" r="2.75" fill="url(#g2)"/><circle cx="628.73" cy="278.04" r="2.75" fill="url(#g2)"/><circle cx="629.52" cy="277.31" r="2.75" fill="url(#g2)"/><circle cx="630.32" cy="276.6" r="2.75" fill="url(#g2)"/><circle cx="631.11" cy="275.89" r="2.75" fill="url(#g2)"/><circle cx="631.9" cy="275.21" r="2.75" fill="url(#g2)"/><circle cx="632.7" cy="274.53" r="2.75" fill="url(#g2)"/><circle cx="633.49" cy="273.87" r="2.75" fill="url(#g2)"/><circle cx="634.28" cy="273.22" r="2.75" fill="url(#g2)"/><circle cx="635.08" cy="272.58" r="2.75" fill="url(#g2)"/><circle cx="635.87" cy="271.96" r="2.75" fill="url(#g2)"/><circle cx="636.66" cy="271.34" r="2.75" fill="url(#g2)"/><circle cx="637.46" cy="270.74" r="2.75" fill="url(#g2)"/><circle cx="638.25" cy="270.15" r="2.75" fill="url(#g2)"/><circle cx="639.04" cy="269.56" r="2.75" fill="url(#g2)"/><circle cx="639.84" cy="268.99" r="2.75" fill="url(#g2)"/><circle cx="640.63" cy="268.42" r="2.75" fill="url(#g2)"/><circle cx="641.42" cy="267.87" r="2.75" fill="url(#g2)"/><circle cx="642.22" cy="267.32" r="2.75" fill="url(#g2)"/><circle cx="643.01" cy="266.79" r="2.75" fill="url(#g2)"/><circle cx="643.8" cy="266.26" r="2.75" fill="url(#g2)"/><circle cx="644.59" cy="265.73" r="2.75" fill="url(#g2)"/><circle cx="645.39" cy="265.22" r="2.75" fill="url(#g2)"/><circle cx="646.18" cy="264.71" r="2.75" fill="url(#g2)"/><circle cx="646.97" cy="264.22" r="2.75" fill="url(#g2)"/><circle cx="647.77" cy="263.72" r="2.75" fill="url(#g2)"/><circle cx="648.56" cy="263.24" r="2.75" fill="url(#g2)"/><circle cx="649.35" cy="262.76" r="2.75" fill="url(#g2)"/><circle cx="650.15" cy="262.29" r="2.75" fill="url(#g2)"/><circle cx="650.94" cy="261.82" r="2.75" fill="url(#g2)"/><circle cx="651.73" cy="261.37" r="2.75" fill="url(#g2)"/><circle cx="652.53" cy="260.91" r="2.75" fill="url(#g2)"/><circle cx="653.32" cy="260.47" r="2.75" fill="url(#g2)"/><circle cx="654.11" cy="260.02" r="2.75" fill="url(#g2)"/><circle cx="654.91" cy="259.59" r="2.75" fill="url(#g2)"/><circle cx="655.7" cy="259.16" r="2.75" fill="url(#g2)"/><circle cx="656.49" cy="258.73" r="2.75" fill="url(#g2)"/><circle cx="657.29" cy="258.31" r="2.75" fill="url(#g2)"/><circle cx="658.08" cy="257.9" r="2.75" fill="url(#g2)"/><circle cx="658.87" cy="257.49" r="2.75" fill="url(#g2)"/><circle cx="659.67" cy="257.08" r="2.75" fill="url(#g2)"/><circle cx="660.46" cy="256.68" r="2.75" fill="url(#g2)"/><circle cx="661.25" cy="256.29" r="2.75" fill="url(#g2)"/><circle cx="662.05" cy="255.9" r="2.75" fill="url(#g2)"/><circle cx="662.84" cy="255.51" r="2.75" fill="url(#g2)"/><circle cx="663.63" cy="255.13" r="2.75" fill="url(#g2)"/><circle cx="664.42" cy="254.75" r="2.75" fill="url(#g2)"/><circle cx="665.22" cy="254.37" r="2.75" fill="url(#g2)"/><circle cx="666.01" cy="254" r="2.75" fill="url(#g2)"/><circle cx="666.8" cy="253.64" r="2.75" fill="url(#g2)"/><circle cx="667.6" cy="253.27" r="2.75" fill="url(#g2)"/><circle cx="668.39" cy="252.92" r="2.75" fill="url(#g2)"/><circle cx="669.18" cy="252.56" r="2.75" fill="url(#g2)"/><circle cx="669.98" cy="252.21" r="2.75" fill="url(#g2)"/><circle cx="670.77" cy="251.86" r="2.75" fill="url(#g2)"/><circle cx="671.56" cy="251.52" r="2.75" fill="url(#g2)"/><circle cx="672.36" cy="251.18" r="2.75" fill="url(#g2)"/><circle cx="673.15" cy="250.84" r="2.75" fill="url(#g2)"/><circle cx="673.15" cy="250.84" r="2.75" fill="url(#g3)"/><circle cx="673.94" cy="262.06" r="2.75" fill="url(#g3)"/><circle cx="674.74" cy="270.51" r="2.75" fill="url(#g3)"/><circle cx="675.53" cy="277.29" r="2.75" fill="url(#g3)"/><circle cx="676.32" cy="282.95" r="2.75" fill="url(#g3)"/><circle cx="677.12" cy="287.81" r="2.75" fill="url(#g3)"/><circle cx="677.91" cy="292.07" r="2.75" fill="url(#g3)"/><circle cx="678.7" cy="295.87" r="2.75" fill="url(#g3)"/><circle cx="679.5" cy="299.28" r="2.75" fill="url(#g3)"/><circle cx="680.29" cy="302.39" r="2.75" fill="url(#g3)"/><circle cx="681.08" cy="305.24" r="2.75" fill="url(#g3)"/><circle cx="681.88" cy="307.87" r="2.75" fill="url(#g3)"/><circle cx="682.67" cy="310.32" r="2.75" fill="url(#g3)"/><circle cx="683.46" cy="312.6" r="2.75" fill="url(#g3)"/><circle cx="684.25" cy="314.74" r="2.75" fill="url(#g3)"/><circle cx="685.05" cy="316.76" r="2.75" fill="url(#g3)"/><circle cx="685.84" cy="318.67" r="2.75" fill="url(#g3)"/><circle cx="686.63" cy="320.47" r="2.75" fill="url(#g3)"/><circle cx="687.43" cy="322.19" r="2.75" fill="url(#g3)"/><circle cx="688.22" cy="323.82" r="2.75" fill="url(#g3)"/><circle cx="689.01" cy="325.38" r="2.75" fill="url(#g3)"/><circle cx="689.81" cy="326.87" r="2.75" fill="url(#g3)"/><circle cx="690.6" cy="328.3" r="2.75" fill="url(#g3)"/><circle cx="691.39" cy="329.68" r="2.75" fill="url(#g3)"/><circle cx="692.19" cy="331" r="2.75" fill="url(#g3)"/><circle cx="692.98" cy="332.27" r="2.75" fill="url(#g3)"/><circle cx="693.77" cy="333.5" r="2.75" fill="url(#g3)"/><circle cx="694.57" cy="334.68" r="2.75" fill="url(#g3)"/><circle cx="695.36" cy="335.83" r="2.75" fill="url(#g3)"/><circle cx="696.15" cy="336.93" r="2.75" fill="url(#g3)"/><circle cx="696.95" cy="338.01" r="2.75" fill="url(#g3)"/><circle cx="697.74" cy="339.05" r="2.75" fill="url(#g3)"/><circle cx="698.53" cy="340.06" r="2.75" fill="url(#g3)"/><circle cx="699.33" cy="341.04" r="2.75" fill="url(#g3)"/><circle cx="700.12" cy="342" r="2.75" fill="url(#g3)"/><circle cx="700.91" cy="342.93" r="2.75" fill="url(#g3)"/><circle cx="701.71" cy="343.83" r="2.75" fill="url(#g3)"/><circle cx="702.5" cy="344.71" r="2.75" fill="url(#g3)"/><circle cx="703.29" cy="345.57" r="2.75" fill="url(#g3)"/><circle cx="704.08" cy="346.41" r="2.75" fill="url(#g3)"/><circle cx="704.88" cy="347.23" r="2.75" fill="url(#g3)"/><circle cx="705.67" cy="348.03" r="2.75" fill="url(#g3)"/><circle cx="706.46" cy="348.81" r="2.75" fill="url(#g3)"/><circle cx="707.26" cy="349.58" r="2.75" fill="url(#g3)"/><circle cx="708.05" cy="350.32" r="2.75" fill="url(#g3)"/><circle cx="708.84" cy="351.06" r="2.75" fill="url(#g3)"/><circle cx="709.64" cy="351.77" r="2.75" fill="url(#g3)"/><circle cx="710.43" cy="352.48" r="2.75" fill="url(#g3)"/><circle cx="711.22" cy="353.16" r="2.75" fill="url(#g3)"/><circle cx="712.02" cy="353.84" r="2.75" fill="url(#g3)"/><circle cx="712.81" cy="354.5" r="2.75" fill="url(#g3)"/><circle cx="713.6" cy="355.15" r="2.75" fill="url(#g3)"/><circle cx="714.4" cy="355.79" r="2.75" fill="url(#g3)"/><circle cx="715.19" cy="356.41" r="2.75" fill="url(#g3)"/><circle cx="715.98" cy="357.03" r="2.75" fill="url(#g3)"/><circle cx="716.78" cy="357.63" r="2.75" fill="url(#g3)"/><circle cx="717.57" cy="358.22" r="2.75" fill="url(#g3)"/><circle cx="718.36" cy="358.81" r="2.75" fill="url(#g3)"/><circle cx="719.16" cy="359.38" r="2.75" fill="url(#g3)"/><circle cx="719.95" cy="359.94" r="2.75" fill="url(#g3)"/><circle cx="720.74" cy="360.5" r="2.75" fill="url(#g3)"/><circle cx="721.54" cy="361.05" r="2.75" fill="url(#g3)"/><circle cx="722.33" cy="361.58" r="2.75" fill="url(#g3)"/><circle cx="723.12" cy="362.11" r="2.75" fill="url(#g3)"/><circle cx="723.91" cy="362.63" r="2.75" fill="url(#g3)"/><circle cx="724.71" cy="363.15" r="2.75" fill="url(#g3)"/><circle cx="725.5" cy="363.65" r="2.75" fill="url(#g3)"/><circle cx="726.29" cy="364.15" r="2.75" fill="url(#g3)"/><circle cx="727.09" cy="364.65" r="2.75" fill="url(#g3)"/><circle cx="727.88" cy="365.13" r="2.75" fill="url(#g3)"/><circle cx="728.67" cy="365.61" r="2.75" fill="url(#g3)"/><circle cx="729.47" cy="366.08" r="2.75" fill="url(#g3)"/><circle cx="730.26" cy="366.54" r="2.75" fill="url(#g3)"/><circle cx="731.05" cy="367" r="2.75" fill="url(#g3)"/><circle cx="731.85" cy="367.46" r="2.75" fill="url(#g3)"/><circle cx="732.64" cy="367.9" r="2.75" fill="url(#g3)"/><circle cx="733.43" cy="368.35" r="2.75" fill="url(#g3)"/><circle cx="734.23" cy="368.78" r="2.75" fill="url(#g3)"/><circle cx="735.02" cy="369.21" r="2.75" fill="url(#g3)"/><circle cx="735.81" cy="369.64" r="2.75" fill="url(#g3)"/><circle cx="736.61" cy="370.06" r="2.75" fill="url(#g3)"/><circle cx="737.4" cy="370.47" r="2.75" fill="url(#g3)"/><circle cx="738.19" cy="370.88" r="2.75" fill="url(#g3)"/><circle cx="738.99" cy="371.29" r="2.75" fill="url(#g3)"/><circle cx="739.78" cy="371.69" r="2.75" fill="url(#g3)"/><circle cx="740.57" cy="372.08" r="2.75" fill="url(#g3)"/><circle cx="741.37" cy="372.47" r="2.75" fill="url(#g3)"/><circle cx="742.16" cy="372.86" r="2.75" fill="url(#g3)"/><circle cx="742.95" cy="373.24" r="2.75" fill="url(#g3)"/><circle cx="743.74" cy="373.62" r="2.75" fill="url(#g3)"/><circle cx="744.54" cy="374" r="2.75" fill="url(#g3)"/><circle cx="745.33" cy="374.37" r="2.75" fill="url(#g3)"/><circle cx="746.12" cy="374.73" r="2.75" fill="url(#g3)"/><circle cx="746.92" cy="375.09" r="2.75" fill="url(#g3)"/><circle cx="747.71" cy="375.45" r="2.75" fill="url(#g3)"/><circle cx="748.5" cy="375.81" r="2.75" fill="url(#g3)"/><circle cx="749.3" cy="376.16" r="2.75" fill="url(#g3)"/><circle cx="750.09" cy="376.51" r="2.75" fill="url(#g3)"/><circle cx="750.88" cy="376.85" r="2.75" fill="url(#g3)"/><circle cx="751.68" cy="377.19" r="2.75" fill="url(#g3)"/><circle cx="752.47" cy="377.53" r="2.75" fill="url(#g3)"/><line x1="613.66" y1="390.2" x2="613.66" y2="387.6" stroke="#1a1a1a" stroke-width="1.1" /><line x1="653.32" y1="390.2" x2="653.32" y2="387.6" stroke="#1a1a1a" stroke-width="1.1" /><line x1="692.98" y1="390.2" x2="692.98" y2="387.6" stroke="#1a1a1a" stroke-width="1.1" /><line x1="732.64" y1="390.2" x2="732.64" y2="387.6" stroke="#1a1a1a" stroke-width="1.1" /><line x1="593.83" y1="390.2" x2="593.83" y2="385.2" stroke="#1a1a1a" stroke-width="1.1" /><line x1="633.49" y1="390.2" x2="633.49" y2="385.2" stroke="#1a1a1a" stroke-width="1.1" /><line x1="673.15" y1="390.2" x2="673.15" y2="385.2" stroke="#1a1a1a" stroke-width="1.1" /><line x1="712.81" y1="390.2" x2="712.81" y2="385.2" stroke="#1a1a1a" stroke-width="1.1" /><line x1="752.47" y1="390.2" x2="752.47" y2="385.2" stroke="#1a1a1a" stroke-width="1.1" /><line x1="574" y1="364.86" x2="576.6" y2="364.86" stroke="#1a1a1a" stroke-width="1.1" /><line x1="574" y1="339.52" x2="576.6" y2="339.52" stroke="#1a1a1a" stroke-width="1.1" /><line x1="574" y1="314.18" x2="576.6" y2="314.18" stroke="#1a1a1a" stroke-width="1.1" /><line x1="574" y1="288.85" x2="576.6" y2="288.85" stroke="#1a1a1a" stroke-width="1.1" /><line x1="574" y1="263.51" x2="576.6" y2="263.51" stroke="#1a1a1a" stroke-width="1.1" /><line x1="574" y1="238.17" x2="576.6" y2="238.17" stroke="#1a1a1a" stroke-width="1.1" /><line x1="574" y1="377.53" x2="579" y2="377.53" stroke="#1a1a1a" stroke-width="1.1" /><line x1="574" y1="352.19" x2="579" y2="352.19" stroke="#1a1a1a" stroke-width="1.1" /><line x1="574" y1="326.85" x2="579" y2="326.85" stroke="#1a1a1a" stroke-width="1.1" /><line x1="574" y1="301.52" x2="579" y2="301.52" stroke="#1a1a1a" stroke-width="1.1" /><line x1="574" y1="276.18" x2="579" y2="276.18" stroke="#1a1a1a" stroke-width="1.1" /><line x1="574" y1="250.84" x2="579" y2="250.84" stroke="#1a1a1a" stroke-width="1.1" /><line x1="574" y1="225.5" x2="579" y2="225.5" stroke="#1a1a1a" stroke-width="1.1" /><rect x="574" y="225.5" width="198.3" height="164.7" fill="none" stroke="#1a1a1a" stroke-width="1.3"/><text x="593.83" y="403.5" font-family="'Liberation Serif','Times New Roman',serif" font-size="11.1" text-anchor="middle" fill="#1a1a1a" stroke="#1a1a1a" stroke-width="0.12" font-weight="normal" >0</text><text x="633.49" y="403.5" font-family="'Liberation Serif','Times New Roman',serif" font-size="11.1" text-anchor="middle" fill="#1a1a1a" stroke="#1a1a1a" stroke-width="0.12" font-weight="normal" >50</text><text x="673.15" y="403.5" font-family="'Liberation Serif','Times New Roman',serif" font-size="11.1" text-anchor="middle" fill="#1a1a1a" stroke="#1a1a1a" stroke-width="0.12" font-weight="normal" >100</text><text x="712.81" y="403.5" font-family="'Liberation Serif','Times New Roman',serif" font-size="11.1" text-anchor="middle" fill="#1a1a1a" stroke="#1a1a1a" stroke-width="0.12" font-weight="normal" >150</text><text x="752.47" y="403.5" font-family="'Liberation Serif','Times New Roman',serif" font-size="11.1" text-anchor="middle" fill="#1a1a1a" stroke="#1a1a1a" stroke-width="0.12" font-weight="normal" >200</text><text x="569.2" y="381.23" font-family="'Liberation Serif','Times New Roman',serif" font-size="11.1" text-anchor="end" fill="#1a1a1a" stroke="#1a1a1a" stroke-width="0.12" font-weight="normal" >0.0</text><text x="569.2" y="355.89" font-family="'Liberation Serif','Times New Roman',serif" font-size="11.1" text-anchor="end" fill="#1a1a1a" stroke="#1a1a1a" stroke-width="0.12" font-weight="normal" >0.2</text><text x="569.2" y="330.55" font-family="'Liberation Serif','Times New Roman',serif" font-size="11.1" text-anchor="end" fill="#1a1a1a" stroke="#1a1a1a" stroke-width="0.12" font-weight="normal" >0.4</text><text x="569.2" y="305.22" font-family="'Liberation Serif','Times New Roman',serif" font-size="11.1" text-anchor="end" fill="#1a1a1a" stroke="#1a1a1a" stroke-width="0.12" font-weight="normal" >0.6</text><text x="569.2" y="279.88" font-family="'Liberation Serif','Times New Roman',serif" font-size="11.1" text-anchor="end" fill="#1a1a1a" stroke="#1a1a1a" stroke-width="0.12" font-weight="normal" >0.8</text><text x="569.2" y="254.54" font-family="'Liberation Serif','Times New Roman',serif" font-size="11.1" text-anchor="end" fill="#1a1a1a" stroke="#1a1a1a" stroke-width="0.12" font-weight="normal" >1.0</text><text x="569.2" y="229.2" font-family="'Liberation Serif','Times New Roman',serif" font-size="11.1" text-anchor="end" fill="#1a1a1a" stroke="#1a1a1a" stroke-width="0.12" font-weight="normal" >1.2</text><text x="673.15" y="423.4" font-family="'Liberation Serif','Times New Roman',serif" font-size="13.5" text-anchor="middle" fill="#1a1a1a" stroke="#1a1a1a" stroke-width="0.12" font-weight="normal" >Pulse number</text><text transform="translate(544,298.8) rotate(-90)" font-family="'Liberation Serif','Times New Roman',serif" font-size="13.5" text-anchor="middle" fill="#1a1a1a" stroke="#1a1a1a" stroke-width="0.12">Weight change</text><line x1="578.3" y1="239" x2="605" y2="239" stroke="#22aaa8" stroke-width="1.2" /><circle cx="591.7" cy="239" r="2.5" fill="url(#g2)"/><text x="608.3" y="243" font-family="'Liberation Serif','Times New Roman',serif" font-size="11.4" text-anchor="start" fill="#1a1a1a" stroke="#1a1a1a" stroke-width="0.12" font-weight="normal" >Potentiation</text><line x1="685" y1="239" x2="711.7" y2="239" stroke="#ea5858" stroke-width="1.2" /><circle cx="698.3" cy="239" r="2.5" fill="url(#g3)"/><text x="714.3" y="243" font-family="'Liberation Serif','Times New Roman',serif" font-size="11.4" text-anchor="start" fill="#1a1a1a" stroke="#1a1a1a" stroke-width="0.12" font-weight="normal" >Depression</text><polyline points="601.4,373.7 609,373.7 609,342.8 620,342.8 620,373.7 627.6,373.7 627.6,342.8 639.1,342.8 639.1,373.7 647.2,373.7 647.2,342.8 658.3,342.8 658.3,373.7 664.5,373.7" fill="none" stroke="#22aaa8" stroke-width="1.2" stroke-linejoin="round" stroke-linejoin="miter"/><text x="626" y="336.2" font-family="'Liberation Serif','Times New Roman',serif" font-size="11.4" text-anchor="start" fill="#22aaa8" stroke="#22aaa8" stroke-width="0.12" font-weight="normal" >5 V</text><circle cx="666.2" cy="357.2" r="1.2" fill="#2a8f8c"/><circle cx="671.95" cy="357.2" r="1.2" fill="#2a8f8c"/><circle cx="677.7" cy="357.2" r="1.2" fill="#2a8f8c"/><polyline points="688.2,269.4 695.6,269.4 695.6,290.3 706.9,290.3 706.9,269.4 714.9,269.4 714.9,290.3 725.9,290.3 725.9,269.4 734.2,269.4 734.2,290.3 745.2,290.3 745.2,269.4 753.2,269.4" fill="none" stroke="#ea5858" stroke-width="1.2" stroke-linejoin="round" stroke-linejoin="miter"/><text x="708.3" y="302.4" font-family="'Liberation Serif','Times New Roman',serif" font-size="11.4" text-anchor="start" fill="#ea5858" stroke="#ea5858" stroke-width="0.12" font-weight="normal" >–3 V</text><circle cx="754.2" cy="281.2" r="1.2" fill="#ea5858"/><circle cx="760" cy="281.2" r="1.2" fill="#ea5858"/><circle cx="765.8" cy="281.2" r="1.2" fill="#ea5858"/><text x="532.6" y="234.1" font-family="'Liberation Sans',Arial,sans-serif" font-size="14.6" text-anchor="start" fill="#000" stroke="#000" stroke-width="0" font-weight="bold" >F</text><polyline points="58.01,600.51 72.13,600.31 86.24,600.31 100.36,600.31 114.47,600.31 128.59,600.31 142.7,600.31 156.81,600.31 170.93,600.31 185.04,600.31 199.16,600.31 213.27,600.31 227.39,600.31" fill="none" stroke="#141414" stroke-width="1.1" stroke-linejoin="round" /><circle cx="58.01" cy="600.51" r="2.7" fill="url(#g4)"/><circle cx="72.13" cy="600.31" r="2.7" fill="url(#g4)"/><circle cx="86.24" cy="600.31" r="2.7" fill="url(#g4)"/><circle cx="100.36" cy="600.31" r="2.7" fill="url(#g4)"/><circle cx="114.47" cy="600.31" r="2.7" fill="url(#g4)"/><circle cx="128.59" cy="600.31" r="2.7" fill="url(#g4)"/><circle cx="142.7" cy="600.31" r="2.7" fill="url(#g4)"/><circle cx="156.81" cy="600.31" r="2.7" fill="url(#g4)"/><circle cx="170.93" cy="600.31" r="2.7" fill="url(#g4)"/><circle cx="185.04" cy="600.31" r="2.7" fill="url(#g4)"/><circle cx="199.16" cy="600.31" r="2.7" fill="url(#g4)"/><circle cx="213.27" cy="600.31" r="2.7" fill="url(#g4)"/><circle cx="227.39" cy="600.31" r="2.7" fill="url(#g4)"/><polyline points="58.01,600.51 72.13,598.57 86.24,598.18 100.36,597.99 114.47,597.79 128.59,597.69 142.7,597.6 156.81,597.5 170.93,597.4 185.04,597.31 199.16,597.21 213.27,597.11 227.39,597.02" fill="none" stroke="#2a78d8" stroke-width="1.1" stroke-linejoin="round" /><circle cx="58.01" cy="600.51" r="2.7" fill="url(#g5)"/><circle cx="72.13" cy="598.57" r="2.7" fill="url(#g5)"/><circle cx="86.24" cy="598.18" r="2.7" fill="url(#g5)"/><circle cx="100.36" cy="597.99" r="2.7" fill="url(#g5)"/><circle cx="114.47" cy="597.79" r="2.7" fill="url(#g5)"/><circle cx="128.59" cy="597.69" r="2.7" fill="url(#g5)"/><circle cx="142.7" cy="597.6" r="2.7" fill="url(#g5)"/><circle cx="156.81" cy="597.5" r="2.7" fill="url(#g5)"/><circle cx="170.93" cy="597.4" r="2.7" fill="url(#g5)"/><circle cx="185.04" cy="597.31" r="2.7" fill="url(#g5)"/><circle cx="199.16" cy="597.21" r="2.7" fill="url(#g5)"/><circle cx="213.27" cy="597.11" r="2.7" fill="url(#g5)"/><circle cx="227.39" cy="597.02" r="2.7" fill="url(#g5)"/><polyline points="58.01,600.51 72.13,592.75 86.24,591.3 100.36,590.33 114.47,589.84 128.59,589.36 142.7,588.87 156.81,588.58 170.93,588.29 185.04,588 199.16,587.81 213.27,587.61 227.39,587.42" fill="none" stroke="#7db6f0" stroke-width="1.1" stroke-linejoin="round" /><circle cx="58.01" cy="600.51" r="2.7" fill="url(#g6)"/><circle cx="72.13" cy="592.75" r="2.7" fill="url(#g6)"/><circle cx="86.24" cy="591.3" r="2.7" fill="url(#g6)"/><circle cx="100.36" cy="590.33" r="2.7" fill="url(#g6)"/><circle cx="114.47" cy="589.84" r="2.7" fill="url(#g6)"/><circle cx="128.59" cy="589.36" r="2.7" fill="url(#g6)"/><circle cx="142.7" cy="588.87" r="2.7" fill="url(#g6)"/><circle cx="156.81" cy="588.58" r="2.7" fill="url(#g6)"/><circle cx="170.93" cy="588.29" r="2.7" fill="url(#g6)"/><circle cx="185.04" cy="588" r="2.7" fill="url(#g6)"/><circle cx="199.16" cy="587.81" r="2.7" fill="url(#g6)"/><circle cx="213.27" cy="587.61" r="2.7" fill="url(#g6)"/><circle cx="227.39" cy="587.42" r="2.7" fill="url(#g6)"/><polyline points="58.01,600.51 72.13,580.15 86.24,575.3 100.36,573.36 114.47,571.42 128.59,569.97 142.7,569 156.81,568.03 170.93,567.06 185.04,566.58 199.16,565.61 213.27,565.12 227.39,564.15" fill="none" stroke="#f5b82a" stroke-width="1.1" stroke-linejoin="round" /><circle cx="58.01" cy="600.51" r="2.7" fill="url(#g7)"/><circle cx="72.13" cy="580.15" r="2.7" fill="url(#g7)"/><circle cx="86.24" cy="575.3" r="2.7" fill="url(#g7)"/><circle cx="100.36" cy="573.36" r="2.7" fill="url(#g7)"/><circle cx="114.47" cy="571.42" r="2.7" fill="url(#g7)"/><circle cx="128.59" cy="569.97" r="2.7" fill="url(#g7)"/><circle cx="142.7" cy="569" r="2.7" fill="url(#g7)"/><circle cx="156.81" cy="568.03" r="2.7" fill="url(#g7)"/><circle cx="170.93" cy="567.06" r="2.7" fill="url(#g7)"/><circle cx="185.04" cy="566.58" r="2.7" fill="url(#g7)"/><circle cx="199.16" cy="565.61" r="2.7" fill="url(#g7)"/><circle cx="213.27" cy="565.12" r="2.7" fill="url(#g7)"/><circle cx="227.39" cy="564.15" r="2.7" fill="url(#g7)"/><polyline points="58.01,600.51 72.13,552.04 86.24,541.37 100.36,536.52 114.47,532.65 128.59,530.22 142.7,528.28 156.81,526.35 170.93,524.89 185.04,523.92 199.16,522.47 213.27,521.5 227.39,520.04" fill="none" stroke="#f28a2c" stroke-width="1.1" stroke-linejoin="round" /><circle cx="58.01" cy="600.51" r="2.7" fill="url(#g8)"/><circle cx="72.13" cy="552.04" r="2.7" fill="url(#g8)"/><circle cx="86.24" cy="541.37" r="2.7" fill="url(#g8)"/><circle cx="100.36" cy="536.52" r="2.7" fill="url(#g8)"/><circle cx="114.47" cy="532.65" r="2.7" fill="url(#g8)"/><circle cx="128.59" cy="530.22" r="2.7" fill="url(#g8)"/><circle cx="142.7" cy="528.28" r="2.7" fill="url(#g8)"/><circle cx="156.81" cy="526.35" r="2.7" fill="url(#g8)"/><circle cx="170.93" cy="524.89" r="2.7" fill="url(#g8)"/><circle cx="185.04" cy="523.92" r="2.7" fill="url(#g8)"/><circle cx="199.16" cy="522.47" r="2.7" fill="url(#g8)"/><circle cx="213.27" cy="521.5" r="2.7" fill="url(#g8)"/><circle cx="227.39" cy="520.04" r="2.7" fill="url(#g8)"/><polyline points="58.01,600.51 72.13,488.54 86.24,478.36 100.36,474.48 114.47,471.57 128.59,469.64 142.7,466.73 156.81,464.79 170.93,462.85 185.04,461.4 199.16,459.94 213.27,458.97 227.39,458" fill="none" stroke="#e8352b" stroke-width="1.1" stroke-linejoin="round" /><circle cx="58.01" cy="600.51" r="2.7" fill="url(#g9)"/><circle cx="72.13" cy="488.54" r="2.7" fill="url(#g9)"/><circle cx="86.24" cy="478.36" r="2.7" fill="url(#g9)"/><circle cx="100.36" cy="474.48" r="2.7" fill="url(#g9)"/><circle cx="114.47" cy="471.57" r="2.7" fill="url(#g9)"/><circle cx="128.59" cy="469.64" r="2.7" fill="url(#g9)"/><circle cx="142.7" cy="466.73" r="2.7" fill="url(#g9)"/><circle cx="156.81" cy="464.79" r="2.7" fill="url(#g9)"/><circle cx="170.93" cy="462.85" r="2.7" fill="url(#g9)"/><circle cx="185.04" cy="461.4" r="2.7" fill="url(#g9)"/><circle cx="199.16" cy="459.94" r="2.7" fill="url(#g9)"/><circle cx="213.27" cy="458.97" r="2.7" fill="url(#g9)"/><circle cx="227.39" cy="458" r="2.7" fill="url(#g9)"/><line x1="72.13" y1="610.2" x2="72.13" y2="607.6" stroke="#1a1a1a" stroke-width="1.1" /><line x1="100.36" y1="610.2" x2="100.36" y2="607.6" stroke="#1a1a1a" stroke-width="1.1" /><line x1="128.59" y1="610.2" x2="128.59" y2="607.6" stroke="#1a1a1a" stroke-width="1.1" /><line x1="156.81" y1="610.2" x2="156.81" y2="607.6" stroke="#1a1a1a" stroke-width="1.1" /><line x1="185.04" y1="610.2" x2="185.04" y2="607.6" stroke="#1a1a1a" stroke-width="1.1" /><line x1="213.27" y1="610.2" x2="213.27" y2="607.6" stroke="#1a1a1a" stroke-width="1.1" /><line x1="58.01" y1="610.2" x2="58.01" y2="605.2" stroke="#1a1a1a" stroke-width="1.1" /><line x1="86.24" y1="610.2" x2="86.24" y2="605.2" stroke="#1a1a1a" stroke-width="1.1" /><line x1="114.47" y1="610.2" x2="114.47" y2="605.2" stroke="#1a1a1a" stroke-width="1.1" /><line x1="142.7" y1="610.2" x2="142.7" y2="605.2" stroke="#1a1a1a" stroke-width="1.1" /><line x1="170.93" y1="610.2" x2="170.93" y2="605.2" stroke="#1a1a1a" stroke-width="1.1" /><line x1="199.16" y1="610.2" x2="199.16" y2="605.2" stroke="#1a1a1a" stroke-width="1.1" /><line x1="227.39" y1="610.2" x2="227.39" y2="605.2" stroke="#1a1a1a" stroke-width="1.1" /><line x1="43.9" y1="581.12" x2="46.5" y2="581.12" stroke="#1a1a1a" stroke-width="1.1" /><line x1="43.9" y1="542.34" x2="46.5" y2="542.34" stroke="#1a1a1a" stroke-width="1.1" /><line x1="43.9" y1="503.56" x2="46.5" y2="503.56" stroke="#1a1a1a" stroke-width="1.1" /><line x1="43.9" y1="464.79" x2="46.5" y2="464.79" stroke="#1a1a1a" stroke-width="1.1" /><line x1="43.9" y1="600.51" x2="48.9" y2="600.51" stroke="#1a1a1a" stroke-width="1.1" /><line x1="43.9" y1="561.73" x2="48.9" y2="561.73" stroke="#1a1a1a" stroke-width="1.1" /><line x1="43.9" y1="522.95" x2="48.9" y2="522.95" stroke="#1a1a1a" stroke-width="1.1" /><line x1="43.9" y1="484.18" x2="48.9" y2="484.18" stroke="#1a1a1a" stroke-width="1.1" /><line x1="43.9" y1="445.4" x2="48.9" y2="445.4" stroke="#1a1a1a" stroke-width="1.1" /><rect x="43.9" y="445.4" width="197.6" height="164.8" fill="none" stroke="#1a1a1a" stroke-width="1.3"/><text x="58.01" y="623.5" font-family="'Liberation Serif','Times New Roman',serif" font-size="11.1" text-anchor="middle" fill="#1a1a1a" stroke="#1a1a1a" stroke-width="0.12" font-weight="normal" >0</text><text x="86.24" y="623.5" font-family="'Liberation Serif','Times New Roman',serif" font-size="11.1" text-anchor="middle" fill="#1a1a1a" stroke="#1a1a1a" stroke-width="0.12" font-weight="normal" >2</text><text x="114.47" y="623.5" font-family="'Liberation Serif','Times New Roman',serif" font-size="11.1" text-anchor="middle" fill="#1a1a1a" stroke="#1a1a1a" stroke-width="0.12" font-weight="normal" >4</text><text x="142.7" y="623.5" font-family="'Liberation Serif','Times New Roman',serif" font-size="11.1" text-anchor="middle" fill="#1a1a1a" stroke="#1a1a1a" stroke-width="0.12" font-weight="normal" >6</text><text x="170.93" y="623.5" font-family="'Liberation Serif','Times New Roman',serif" font-size="11.1" text-anchor="middle" fill="#1a1a1a" stroke="#1a1a1a" stroke-width="0.12" font-weight="normal" >8</text><text x="199.16" y="623.5" font-family="'Liberation Serif','Times New Roman',serif" font-size="11.1" text-anchor="middle" fill="#1a1a1a" stroke="#1a1a1a" stroke-width="0.12" font-weight="normal" >10</text><text x="227.39" y="623.5" font-family="'Liberation Serif','Times New Roman',serif" font-size="11.1" text-anchor="middle" fill="#1a1a1a" stroke="#1a1a1a" stroke-width="0.12" font-weight="normal" >12</text><text x="39.1" y="604.21" font-family="'Liberation Serif','Times New Roman',serif" font-size="11.1" text-anchor="end" fill="#1a1a1a" stroke="#1a1a1a" stroke-width="0.12" font-weight="normal" >0.0</text><text x="39.1" y="565.43" font-family="'Liberation Serif','Times New Roman',serif" font-size="11.1" text-anchor="end" fill="#1a1a1a" stroke="#1a1a1a" stroke-width="0.12" font-weight="normal" >0.4</text><text x="39.1" y="526.65" font-family="'Liberation Serif','Times New Roman',serif" font-size="11.1" text-anchor="end" fill="#1a1a1a" stroke="#1a1a1a" stroke-width="0.12" font-weight="normal" >0.8</text><text x="39.1" y="487.88" font-family="'Liberation Serif','Times New Roman',serif" font-size="11.1" text-anchor="end" fill="#1a1a1a" stroke="#1a1a1a" stroke-width="0.12" font-weight="normal" >1.2</text><text x="39.1" y="449.1" font-family="'Liberation Serif','Times New Roman',serif" font-size="11.1" text-anchor="end" fill="#1a1a1a" stroke="#1a1a1a" stroke-width="0.12" font-weight="normal" >1.6</text><text x="142.7" y="639.7" font-family="'Liberation Serif','Times New Roman',serif" font-size="13.5" text-anchor="middle" fill="#1a1a1a" stroke="#1a1a1a" stroke-width="0.12" font-weight="normal" >Pulse number</text><text transform="translate(19.6,527) rotate(-90)" font-family="'Liberation Serif','Times New Roman',serif" font-size="13.5" text-anchor="middle" fill="#1a1a1a" stroke="#1a1a1a" stroke-width="0.12">Current (mA)</text><line x1="111.9" y1="482.5" x2="138.5" y2="482.5" stroke="#141414" stroke-width="1.0" /><circle cx="125.1" cy="482" r="2.6" fill="url(#g4)"/><text x="141.6" y="485.9" font-family="'Liberation Serif','Times New Roman',serif" font-size="11.4" text-anchor="start" fill="#1a1a1a" stroke="#1a1a1a" stroke-width="0.12" font-weight="normal" >2 V</text><line x1="166.8" y1="482.5" x2="193.4" y2="482.5" stroke="#2a78d8" stroke-width="1.0" /><circle cx="180" cy="482" r="2.6" fill="url(#g5)"/><text x="196.5" y="485.9" font-family="'Liberation Serif','Times New Roman',serif" font-size="11.4" text-anchor="start" fill="#1a1a1a" stroke="#1a1a1a" stroke-width="0.12" font-weight="normal" >3 V</text><line x1="111.9" y1="496.5" x2="138.5" y2="496.5" stroke="#7db6f0" stroke-width="1.0" /><circle cx="125.1" cy="496.25" r="2.6" fill="url(#g6)"/><text x="141.6" y="500.15" font-family="'Liberation Serif','Times New Roman',serif" font-size="11.4" text-anchor="start" fill="#1a1a1a" stroke="#1a1a1a" stroke-width="0.12" font-weight="normal" >4 V</text><line x1="166.8" y1="496.5" x2="193.4" y2="496.5" stroke="#f5b82a" stroke-width="1.0" /><circle cx="180" cy="496.25" r="2.6" fill="url(#g7)"/><text x="196.5" y="500.15" font-family="'Liberation Serif','Times New Roman',serif" font-size="11.4" text-anchor="start" fill="#1a1a1a" stroke="#1a1a1a" stroke-width="0.12" font-weight="normal" >5 V</text><line x1="111.9" y1="510.5" x2="138.5" y2="510.5" stroke="#f28a2c" stroke-width="1.0" /><circle cx="125.1" cy="510.5" r="2.6" fill="url(#g8)"/><text x="141.6" y="514.4" font-family="'Liberation Serif','Times New Roman',serif" font-size="11.4" text-anchor="start" fill="#1a1a1a" stroke="#1a1a1a" stroke-width="0.12" font-weight="normal" >6 V</text><line x1="166.8" y1="510.5" x2="193.4" y2="510.5" stroke="#e8352b" stroke-width="1.0" /><circle cx="180" cy="510.5" r="2.6" fill="url(#g9)"/><text x="196.5" y="514.4" font-family="'Liberation Serif','Times New Roman',serif" font-size="11.4" text-anchor="start" fill="#1a1a1a" stroke="#1a1a1a" stroke-width="0.12" font-weight="normal" >7 V</text><text x="1.2" y="453.5" font-family="'Liberation Sans',Arial,sans-serif" font-size="14.6" text-anchor="start" fill="#000" stroke="#000" stroke-width="0" font-weight="bold" >G</text><polyline points="323.11,593.72 337.23,549.55 351.34,536.37 365.46,533.07 379.57,529.78 393.69,527.14 407.8,525.82 421.91,524.5 436.03,522.53 450.14,521.87 464.26,521.21 478.37,519.89 492.49,519.23" fill="none" stroke="#141414" stroke-width="1.1" stroke-linejoin="round" /><circle cx="323.11" cy="593.72" r="2.7" fill="url(#g4)"/><circle cx="337.23" cy="549.55" r="2.7" fill="url(#g4)"/><circle cx="351.34" cy="536.37" r="2.7" fill="url(#g4)"/><circle cx="365.46" cy="533.07" r="2.7" fill="url(#g4)"/><circle cx="379.57" cy="529.78" r="2.7" fill="url(#g4)"/><circle cx="393.69" cy="527.14" r="2.7" fill="url(#g4)"/><circle cx="407.8" cy="525.82" r="2.7" fill="url(#g4)"/><circle cx="421.91" cy="524.5" r="2.7" fill="url(#g4)"/><circle cx="436.03" cy="522.53" r="2.7" fill="url(#g4)"/><circle cx="450.14" cy="521.87" r="2.7" fill="url(#g4)"/><circle cx="464.26" cy="521.21" r="2.7" fill="url(#g4)"/><circle cx="478.37" cy="519.89" r="2.7" fill="url(#g4)"/><circle cx="492.49" cy="519.23" r="2.7" fill="url(#g4)"/><polyline points="323.11,593.72 337.23,544.28 351.34,528.46 365.46,523.84 379.57,521.21 393.69,518.57 407.8,517.25 421.91,515.28 436.03,513.96 450.14,512.64 464.26,511.98 478.37,510.66 492.49,510" fill="none" stroke="#2a78d8" stroke-width="1.1" stroke-linejoin="round" /><circle cx="323.11" cy="593.72" r="2.7" fill="url(#g5)"/><circle cx="337.23" cy="544.28" r="2.7" fill="url(#g5)"/><circle cx="351.34" cy="528.46" r="2.7" fill="url(#g5)"/><circle cx="365.46" cy="523.84" r="2.7" fill="url(#g5)"/><circle cx="379.57" cy="521.21" r="2.7" fill="url(#g5)"/><circle cx="393.69" cy="518.57" r="2.7" fill="url(#g5)"/><circle cx="407.8" cy="517.25" r="2.7" fill="url(#g5)"/><circle cx="421.91" cy="515.28" r="2.7" fill="url(#g5)"/><circle cx="436.03" cy="513.96" r="2.7" fill="url(#g5)"/><circle cx="450.14" cy="512.64" r="2.7" fill="url(#g5)"/><circle cx="464.26" cy="511.98" r="2.7" fill="url(#g5)"/><circle cx="478.37" cy="510.66" r="2.7" fill="url(#g5)"/><circle cx="492.49" cy="510" r="2.7" fill="url(#g5)"/><polyline points="323.11,593.72 337.23,547.58 351.34,528.46 365.46,513.3 379.57,508.68 393.69,505.39 407.8,502.09 421.91,500.11 436.03,498.14 450.14,496.16 464.26,494.18 478.37,492.86 492.49,491.54" fill="none" stroke="#7db6f0" stroke-width="1.1" stroke-linejoin="round" /><circle cx="323.11" cy="593.72" r="2.7" fill="url(#g6)"/><circle cx="337.23" cy="547.58" r="2.7" fill="url(#g6)"/><circle cx="351.34" cy="528.46" r="2.7" fill="url(#g6)"/><circle cx="365.46" cy="513.3" r="2.7" fill="url(#g6)"/><circle cx="379.57" cy="508.68" r="2.7" fill="url(#g6)"/><circle cx="393.69" cy="505.39" r="2.7" fill="url(#g6)"/><circle cx="407.8" cy="502.09" r="2.7" fill="url(#g6)"/><circle cx="421.91" cy="500.11" r="2.7" fill="url(#g6)"/><circle cx="436.03" cy="498.14" r="2.7" fill="url(#g6)"/><circle cx="450.14" cy="496.16" r="2.7" fill="url(#g6)"/><circle cx="464.26" cy="494.18" r="2.7" fill="url(#g6)"/><circle cx="478.37" cy="492.86" r="2.7" fill="url(#g6)"/><circle cx="492.49" cy="491.54" r="2.7" fill="url(#g6)"/><polyline points="323.11,593.72 337.23,547.58 351.34,515.93 365.46,508.02 379.57,502.75 393.69,498.14 407.8,494.84 421.91,491.54 436.03,488.91 450.14,486.27 464.26,483.63 478.37,481.66 492.49,479.68" fill="none" stroke="#f5b82a" stroke-width="1.1" stroke-linejoin="round" /><circle cx="323.11" cy="593.72" r="2.7" fill="url(#g7)"/><circle cx="337.23" cy="547.58" r="2.7" fill="url(#g7)"/><circle cx="351.34" cy="515.93" r="2.7" fill="url(#g7)"/><circle cx="365.46" cy="508.02" r="2.7" fill="url(#g7)"/><circle cx="379.57" cy="502.75" r="2.7" fill="url(#g7)"/><circle cx="393.69" cy="498.14" r="2.7" fill="url(#g7)"/><circle cx="407.8" cy="494.84" r="2.7" fill="url(#g7)"/><circle cx="421.91" cy="491.54" r="2.7" fill="url(#g7)"/><circle cx="436.03" cy="488.91" r="2.7" fill="url(#g7)"/><circle cx="450.14" cy="486.27" r="2.7" fill="url(#g7)"/><circle cx="464.26" cy="483.63" r="2.7" fill="url(#g7)"/><circle cx="478.37" cy="481.66" r="2.7" fill="url(#g7)"/><circle cx="492.49" cy="479.68" r="2.7" fill="url(#g7)"/><polyline points="323.11,593.72 337.23,541.64 351.34,511.32 365.46,495.5 379.57,488.25 393.69,482.97 407.8,479.02 421.91,475.72 436.03,472.43 450.14,469.79 464.26,467.15 478.37,463.86 492.49,461.88" fill="none" stroke="#e8352b" stroke-width="1.1" stroke-linejoin="round" /><circle cx="323.11" cy="593.72" r="2.7" fill="url(#g9)"/><circle cx="337.23" cy="541.64" r="2.7" fill="url(#g9)"/><circle cx="351.34" cy="511.32" r="2.7" fill="url(#g9)"/><circle cx="365.46" cy="495.5" r="2.7" fill="url(#g9)"/><circle cx="379.57" cy="488.25" r="2.7" fill="url(#g9)"/><circle cx="393.69" cy="482.97" r="2.7" fill="url(#g9)"/><circle cx="407.8" cy="479.02" r="2.7" fill="url(#g9)"/><circle cx="421.91" cy="475.72" r="2.7" fill="url(#g9)"/><circle cx="436.03" cy="472.43" r="2.7" fill="url(#g9)"/><circle cx="450.14" cy="469.79" r="2.7" fill="url(#g9)"/><circle cx="464.26" cy="467.15" r="2.7" fill="url(#g9)"/><circle cx="478.37" cy="463.86" r="2.7" fill="url(#g9)"/><circle cx="492.49" cy="461.88" r="2.7" fill="url(#g9)"/><polyline points="323.11,593.72 337.23,537.69 351.34,511.98 365.46,502.75 379.57,496.16 393.69,491.54 407.8,487.59 421.91,484.95 436.03,481 450.14,478.36 464.26,475.72 478.37,473.09 492.49,471.11" fill="none" stroke="#f28a2c" stroke-width="1.1" stroke-linejoin="round" /><circle cx="323.11" cy="593.72" r="2.7" fill="url(#g8)"/><circle cx="337.23" cy="537.69" r="2.7" fill="url(#g8)"/><circle cx="351.34" cy="511.98" r="2.7" fill="url(#g8)"/><circle cx="365.46" cy="502.75" r="2.7" fill="url(#g8)"/><circle cx="379.57" cy="496.16" r="2.7" fill="url(#g8)"/><circle cx="393.69" cy="491.54" r="2.7" fill="url(#g8)"/><circle cx="407.8" cy="487.59" r="2.7" fill="url(#g8)"/><circle cx="421.91" cy="484.95" r="2.7" fill="url(#g8)"/><circle cx="436.03" cy="481" r="2.7" fill="url(#g8)"/><circle cx="450.14" cy="478.36" r="2.7" fill="url(#g8)"/><circle cx="464.26" cy="475.72" r="2.7" fill="url(#g8)"/><circle cx="478.37" cy="473.09" r="2.7" fill="url(#g8)"/><circle cx="492.49" cy="471.11" r="2.7" fill="url(#g8)"/><line x1="337.23" y1="610.2" x2="337.23" y2="607.6" stroke="#1a1a1a" stroke-width="1.1" /><line x1="365.46" y1="610.2" x2="365.46" y2="607.6" stroke="#1a1a1a" stroke-width="1.1" /><line x1="393.69" y1="610.2" x2="393.69" y2="607.6" stroke="#1a1a1a" stroke-width="1.1" /><line x1="421.91" y1="610.2" x2="421.91" y2="607.6" stroke="#1a1a1a" stroke-width="1.1" /><line x1="450.14" y1="610.2" x2="450.14" y2="607.6" stroke="#1a1a1a" stroke-width="1.1" /><line x1="478.37" y1="610.2" x2="478.37" y2="607.6" stroke="#1a1a1a" stroke-width="1.1" /><line x1="323.11" y1="610.2" x2="323.11" y2="605.2" stroke="#1a1a1a" stroke-width="1.1" /><line x1="351.34" y1="610.2" x2="351.34" y2="605.2" stroke="#1a1a1a" stroke-width="1.1" /><line x1="379.57" y1="610.2" x2="379.57" y2="605.2" stroke="#1a1a1a" stroke-width="1.1" /><line x1="407.8" y1="610.2" x2="407.8" y2="605.2" stroke="#1a1a1a" stroke-width="1.1" /><line x1="436.03" y1="610.2" x2="436.03" y2="605.2" stroke="#1a1a1a" stroke-width="1.1" /><line x1="464.26" y1="610.2" x2="464.26" y2="605.2" stroke="#1a1a1a" stroke-width="1.1" /><line x1="492.49" y1="610.2" x2="492.49" y2="605.2" stroke="#1a1a1a" stroke-width="1.1" /><line x1="309" y1="577.24" x2="311.6" y2="577.24" stroke="#1a1a1a" stroke-width="1.1" /><line x1="309" y1="544.28" x2="311.6" y2="544.28" stroke="#1a1a1a" stroke-width="1.1" /><line x1="309" y1="511.32" x2="311.6" y2="511.32" stroke="#1a1a1a" stroke-width="1.1" /><line x1="309" y1="478.36" x2="311.6" y2="478.36" stroke="#1a1a1a" stroke-width="1.1" /><line x1="309" y1="593.72" x2="314" y2="593.72" stroke="#1a1a1a" stroke-width="1.1" /><line x1="309" y1="560.76" x2="314" y2="560.76" stroke="#1a1a1a" stroke-width="1.1" /><line x1="309" y1="527.8" x2="314" y2="527.8" stroke="#1a1a1a" stroke-width="1.1" /><line x1="309" y1="494.84" x2="314" y2="494.84" stroke="#1a1a1a" stroke-width="1.1" /><line x1="309" y1="461.88" x2="314" y2="461.88" stroke="#1a1a1a" stroke-width="1.1" /><rect x="309" y="445.4" width="197.6" height="164.8" fill="none" stroke="#1a1a1a" stroke-width="1.3"/><text x="323.11" y="623.5" font-family="'Liberation Serif','Times New Roman',serif" font-size="11.1" text-anchor="middle" fill="#1a1a1a" stroke="#1a1a1a" stroke-width="0.12" font-weight="normal" >0</text><text x="351.34" y="623.5" font-family="'Liberation Serif','Times New Roman',serif" font-size="11.1" text-anchor="middle" fill="#1a1a1a" stroke="#1a1a1a" stroke-width="0.12" font-weight="normal" >2</text><text x="379.57" y="623.5" font-family="'Liberation Serif','Times New Roman',serif" font-size="11.1" text-anchor="middle" fill="#1a1a1a" stroke="#1a1a1a" stroke-width="0.12" font-weight="normal" >4</text><text x="407.8" y="623.5" font-family="'Liberation Serif','Times New Roman',serif" font-size="11.1" text-anchor="middle" fill="#1a1a1a" stroke="#1a1a1a" stroke-width="0.12" font-weight="normal" >6</text><text x="436.03" y="623.5" font-family="'Liberation Serif','Times New Roman',serif" font-size="11.1" text-anchor="middle" fill="#1a1a1a" stroke="#1a1a1a" stroke-width="0.12" font-weight="normal" >8</text><text x="464.26" y="623.5" font-family="'Liberation Serif','Times New Roman',serif" font-size="11.1" text-anchor="middle" fill="#1a1a1a" stroke="#1a1a1a" stroke-width="0.12" font-weight="normal" >10</text><text x="492.49" y="623.5" font-family="'Liberation Serif','Times New Roman',serif" font-size="11.1" text-anchor="middle" fill="#1a1a1a" stroke="#1a1a1a" stroke-width="0.12" font-weight="normal" >12</text><text x="304.2" y="597.42" font-family="'Liberation Serif','Times New Roman',serif" font-size="11.1" text-anchor="end" fill="#1a1a1a" stroke="#1a1a1a" stroke-width="0.12" font-weight="normal" >0.00</text><text x="304.2" y="564.46" font-family="'Liberation Serif','Times New Roman',serif" font-size="11.1" text-anchor="end" fill="#1a1a1a" stroke="#1a1a1a" stroke-width="0.12" font-weight="normal" >0.05</text><text x="304.2" y="531.5" font-family="'Liberation Serif','Times New Roman',serif" font-size="11.1" text-anchor="end" fill="#1a1a1a" stroke="#1a1a1a" stroke-width="0.12" font-weight="normal" >0.10</text><text x="304.2" y="498.54" font-family="'Liberation Serif','Times New Roman',serif" font-size="11.1" text-anchor="end" fill="#1a1a1a" stroke="#1a1a1a" stroke-width="0.12" font-weight="normal" >0.15</text><text x="304.2" y="465.58" font-family="'Liberation Serif','Times New Roman',serif" font-size="11.1" text-anchor="end" fill="#1a1a1a" stroke="#1a1a1a" stroke-width="0.12" font-weight="normal" >0.20</text><text x="407.8" y="639.7" font-family="'Liberation Serif','Times New Roman',serif" font-size="13.5" text-anchor="middle" fill="#1a1a1a" stroke="#1a1a1a" stroke-width="0.12" font-weight="normal" >Pulse number</text><text transform="translate(281.2,527) rotate(-90)" font-family="'Liberation Serif','Times New Roman',serif" font-size="13.5" text-anchor="middle" fill="#1a1a1a" stroke="#1a1a1a" stroke-width="0.12">Current (mA)</text><line x1="353.3" y1="558.5" x2="380" y2="558.5" stroke="#141414" stroke-width="1.0" /><circle cx="366.6" cy="558" r="2.6" fill="url(#g4)"/><text x="384" y="561.9" font-family="'Liberation Serif','Times New Roman',serif" font-size="11.4" text-anchor="start" fill="#1a1a1a" stroke="#1a1a1a" stroke-width="0.12" font-weight="normal" >10 ms</text><line x1="420" y1="558.5" x2="446.7" y2="558.5" stroke="#2a78d8" stroke-width="1.0" /><circle cx="433.3" cy="558" r="2.6" fill="url(#g5)"/><text x="450.7" y="561.9" font-family="'Liberation Serif','Times New Roman',serif" font-size="11.4" text-anchor="start" fill="#1a1a1a" stroke="#1a1a1a" stroke-width="0.12" font-weight="normal" >20 ms</text><line x1="353.3" y1="572.5" x2="380" y2="572.5" stroke="#7db6f0" stroke-width="1.0" /><circle cx="366.6" cy="572.6" r="2.6" fill="url(#g6)"/><text x="384" y="576.5" font-family="'Liberation Serif','Times New Roman',serif" font-size="11.4" text-anchor="start" fill="#1a1a1a" stroke="#1a1a1a" stroke-width="0.12" font-weight="normal" >40 ms</text><line x1="420" y1="572.5" x2="446.7" y2="572.5" stroke="#f5b82a" stroke-width="1.0" /><circle cx="433.3" cy="572.6" r="2.6" fill="url(#g7)"/><text x="450.7" y="576.5" font-family="'Liberation Serif','Times New Roman',serif" font-size="11.4" text-anchor="start" fill="#1a1a1a" stroke="#1a1a1a" stroke-width="0.12" font-weight="normal" >60 ms</text><line x1="353.3" y1="587.5" x2="380" y2="587.5" stroke="#f28a2c" stroke-width="1.0" /><circle cx="366.6" cy="587.2" r="2.6" fill="url(#g8)"/><text x="384" y="591.1" font-family="'Liberation Serif','Times New Roman',serif" font-size="11.4" text-anchor="start" fill="#1a1a1a" stroke="#1a1a1a" stroke-width="0.12" font-weight="normal" >80 ms</text><line x1="420" y1="587.5" x2="446.7" y2="587.5" stroke="#e8352b" stroke-width="1.0" /><circle cx="433.3" cy="587.2" r="2.6" fill="url(#g9)"/><text x="450.7" y="591.1" font-family="'Liberation Serif','Times New Roman',serif" font-size="11.4" text-anchor="start" fill="#1a1a1a" stroke="#1a1a1a" stroke-width="0.12" font-weight="normal" >100 ms</text><text x="270.6" y="453.5" font-family="'Liberation Sans',Arial,sans-serif" font-size="14.6" text-anchor="start" fill="#000" stroke="#000" stroke-width="0" font-weight="bold" >H</text><polyline points="588.16,592.85 602.33,526.33 616.49,492.24 630.66,484.43 644.82,479.23 658.99,474.89 673.15,471.42 687.31,467.95 701.48,465.35 715.64,462.75 729.81,461.01 743.97,459.28 758.14,456.68" fill="none" stroke="#e8352b" stroke-width="1.1" stroke-linejoin="round" /><circle cx="588.16" cy="592.85" r="2.7" fill="url(#g9)"/><circle cx="602.33" cy="526.33" r="2.7" fill="url(#g9)"/><circle cx="616.49" cy="492.24" r="2.7" fill="url(#g9)"/><circle cx="630.66" cy="484.43" r="2.7" fill="url(#g9)"/><circle cx="644.82" cy="479.23" r="2.7" fill="url(#g9)"/><circle cx="658.99" cy="474.89" r="2.7" fill="url(#g9)"/><circle cx="673.15" cy="471.42" r="2.7" fill="url(#g9)"/><circle cx="687.31" cy="467.95" r="2.7" fill="url(#g9)"/><circle cx="701.48" cy="465.35" r="2.7" fill="url(#g9)"/><circle cx="715.64" cy="462.75" r="2.7" fill="url(#g9)"/><circle cx="729.81" cy="461.01" r="2.7" fill="url(#g9)"/><circle cx="743.97" cy="459.28" r="2.7" fill="url(#g9)"/><circle cx="758.14" cy="456.68" r="2.7" fill="url(#g9)"/><polyline points="588.16,592.85 602.33,526.07 616.49,496.57 630.66,489.64 644.82,485.3 658.99,481.83 673.15,479.23 687.31,477.49 701.48,475.76 715.64,474.02 729.81,472.29 743.97,471.42 758.14,469.69" fill="none" stroke="#f28a2c" stroke-width="1.1" stroke-linejoin="round" /><circle cx="588.16" cy="592.85" r="2.7" fill="url(#g8)"/><circle cx="602.33" cy="526.07" r="2.7" fill="url(#g8)"/><circle cx="616.49" cy="496.57" r="2.7" fill="url(#g8)"/><circle cx="630.66" cy="489.64" r="2.7" fill="url(#g8)"/><circle cx="644.82" cy="485.3" r="2.7" fill="url(#g8)"/><circle cx="658.99" cy="481.83" r="2.7" fill="url(#g8)"/><circle cx="673.15" cy="479.23" r="2.7" fill="url(#g8)"/><circle cx="687.31" cy="477.49" r="2.7" fill="url(#g8)"/><circle cx="701.48" cy="475.76" r="2.7" fill="url(#g8)"/><circle cx="715.64" cy="474.02" r="2.7" fill="url(#g8)"/><circle cx="729.81" cy="472.29" r="2.7" fill="url(#g8)"/><circle cx="743.97" cy="471.42" r="2.7" fill="url(#g8)"/><circle cx="758.14" cy="469.69" r="2.7" fill="url(#g8)"/><polyline points="588.16,592.85 602.33,527.8 616.49,501.78 630.66,496.57 644.82,492.24 658.99,488.77 673.15,486.17 687.31,483.56 701.48,480.96 715.64,479.23 729.81,477.49 743.97,476.63 758.14,474.89" fill="none" stroke="#f5b82a" stroke-width="1.1" stroke-linejoin="round" /><circle cx="588.16" cy="592.85" r="2.7" fill="url(#g7)"/><circle cx="602.33" cy="527.8" r="2.7" fill="url(#g7)"/><circle cx="616.49" cy="501.78" r="2.7" fill="url(#g7)"/><circle cx="630.66" cy="496.57" r="2.7" fill="url(#g7)"/><circle cx="644.82" cy="492.24" r="2.7" fill="url(#g7)"/><circle cx="658.99" cy="488.77" r="2.7" fill="url(#g7)"/><circle cx="673.15" cy="486.17" r="2.7" fill="url(#g7)"/><circle cx="687.31" cy="483.56" r="2.7" fill="url(#g7)"/><circle cx="701.48" cy="480.96" r="2.7" fill="url(#g7)"/><circle cx="715.64" cy="479.23" r="2.7" fill="url(#g7)"/><circle cx="729.81" cy="477.49" r="2.7" fill="url(#g7)"/><circle cx="743.97" cy="476.63" r="2.7" fill="url(#g7)"/><circle cx="758.14" cy="474.89" r="2.7" fill="url(#g7)"/><polyline points="588.16,592.85 602.33,528.67 616.49,507.85 630.66,500.04 644.82,494.84 658.99,491.37 673.15,487.9 687.31,485.3 701.48,482.7 715.64,480.96 729.81,479.23 743.97,477.49 758.14,475.76" fill="none" stroke="#7db6f0" stroke-width="1.1" stroke-linejoin="round" /><circle cx="588.16" cy="592.85" r="2.7" fill="url(#g6)"/><circle cx="602.33" cy="528.67" r="2.7" fill="url(#g6)"/><circle cx="616.49" cy="507.85" r="2.7" fill="url(#g6)"/><circle cx="630.66" cy="500.04" r="2.7" fill="url(#g6)"/><circle cx="644.82" cy="494.84" r="2.7" fill="url(#g6)"/><circle cx="658.99" cy="491.37" r="2.7" fill="url(#g6)"/><circle cx="673.15" cy="487.9" r="2.7" fill="url(#g6)"/><circle cx="687.31" cy="485.3" r="2.7" fill="url(#g6)"/><circle cx="701.48" cy="482.7" r="2.7" fill="url(#g6)"/><circle cx="715.64" cy="480.96" r="2.7" fill="url(#g6)"/><circle cx="729.81" cy="479.23" r="2.7" fill="url(#g6)"/><circle cx="743.97" cy="477.49" r="2.7" fill="url(#g6)"/><circle cx="758.14" cy="475.76" r="2.7" fill="url(#g6)"/><polyline points="588.16,592.85 602.33,530.4 616.49,517.65 630.66,512.19 644.82,508.72 658.99,506.98 673.15,504.38 687.31,502.65 701.48,501.78 715.64,500.04 729.81,500.04 743.97,498.31 758.14,497.44" fill="none" stroke="#2a78d8" stroke-width="1.1" stroke-linejoin="round" /><circle cx="588.16" cy="592.85" r="2.7" fill="url(#g5)"/><circle cx="602.33" cy="530.4" r="2.7" fill="url(#g5)"/><circle cx="616.49" cy="517.65" r="2.7" fill="url(#g5)"/><circle cx="630.66" cy="512.19" r="2.7" fill="url(#g5)"/><circle cx="644.82" cy="508.72" r="2.7" fill="url(#g5)"/><circle cx="658.99" cy="506.98" r="2.7" fill="url(#g5)"/><circle cx="673.15" cy="504.38" r="2.7" fill="url(#g5)"/><circle cx="687.31" cy="502.65" r="2.7" fill="url(#g5)"/><circle cx="701.48" cy="501.78" r="2.7" fill="url(#g5)"/><circle cx="715.64" cy="500.04" r="2.7" fill="url(#g5)"/><circle cx="729.81" cy="500.04" r="2.7" fill="url(#g5)"/><circle cx="743.97" cy="498.31" r="2.7" fill="url(#g5)"/><circle cx="758.14" cy="497.44" r="2.7" fill="url(#g5)"/><polyline points="588.16,592.85 602.33,532.14 616.49,520.43 630.66,515.66 644.82,512.19 658.99,510.45 673.15,508.72 687.31,506.98 701.48,505.25 715.64,504.38 729.81,504.38 743.97,502.65 758.14,501.78" fill="none" stroke="#141414" stroke-width="1.1" stroke-linejoin="round" /><circle cx="588.16" cy="592.85" r="2.7" fill="url(#g4)"/><circle cx="602.33" cy="532.14" r="2.7" fill="url(#g4)"/><circle cx="616.49" cy="520.43" r="2.7" fill="url(#g4)"/><circle cx="630.66" cy="515.66" r="2.7" fill="url(#g4)"/><circle cx="644.82" cy="512.19" r="2.7" fill="url(#g4)"/><circle cx="658.99" cy="510.45" r="2.7" fill="url(#g4)"/><circle cx="673.15" cy="508.72" r="2.7" fill="url(#g4)"/><circle cx="687.31" cy="506.98" r="2.7" fill="url(#g4)"/><circle cx="701.48" cy="505.25" r="2.7" fill="url(#g4)"/><circle cx="715.64" cy="504.38" r="2.7" fill="url(#g4)"/><circle cx="729.81" cy="504.38" r="2.7" fill="url(#g4)"/><circle cx="743.97" cy="502.65" r="2.7" fill="url(#g4)"/><circle cx="758.14" cy="501.78" r="2.7" fill="url(#g4)"/><line x1="602.33" y1="610.2" x2="602.33" y2="607.6" stroke="#1a1a1a" stroke-width="1.1" /><line x1="630.66" y1="610.2" x2="630.66" y2="607.6" stroke="#1a1a1a" stroke-width="1.1" /><line x1="658.99" y1="610.2" x2="658.99" y2="607.6" stroke="#1a1a1a" stroke-width="1.1" /><line x1="687.31" y1="610.2" x2="687.31" y2="607.6" stroke="#1a1a1a" stroke-width="1.1" /><line x1="715.64" y1="610.2" x2="715.64" y2="607.6" stroke="#1a1a1a" stroke-width="1.1" /><line x1="743.97" y1="610.2" x2="743.97" y2="607.6" stroke="#1a1a1a" stroke-width="1.1" /><line x1="588.16" y1="610.2" x2="588.16" y2="605.2" stroke="#1a1a1a" stroke-width="1.1" /><line x1="616.49" y1="610.2" x2="616.49" y2="605.2" stroke="#1a1a1a" stroke-width="1.1" /><line x1="644.82" y1="610.2" x2="644.82" y2="605.2" stroke="#1a1a1a" stroke-width="1.1" /><line x1="673.15" y1="610.2" x2="673.15" y2="605.2" stroke="#1a1a1a" stroke-width="1.1" /><line x1="701.48" y1="610.2" x2="701.48" y2="605.2" stroke="#1a1a1a" stroke-width="1.1" /><line x1="729.81" y1="610.2" x2="729.81" y2="605.2" stroke="#1a1a1a" stroke-width="1.1" /><line x1="758.14" y1="610.2" x2="758.14" y2="605.2" stroke="#1a1a1a" stroke-width="1.1" /><line x1="574" y1="575.51" x2="576.6" y2="575.51" stroke="#1a1a1a" stroke-width="1.1" /><line x1="574" y1="540.81" x2="576.6" y2="540.81" stroke="#1a1a1a" stroke-width="1.1" /><line x1="574" y1="506.12" x2="576.6" y2="506.12" stroke="#1a1a1a" stroke-width="1.1" /><line x1="574" y1="471.42" x2="576.6" y2="471.42" stroke="#1a1a1a" stroke-width="1.1" /><line x1="574" y1="592.85" x2="579" y2="592.85" stroke="#1a1a1a" stroke-width="1.1" /><line x1="574" y1="558.16" x2="579" y2="558.16" stroke="#1a1a1a" stroke-width="1.1" /><line x1="574" y1="523.46" x2="579" y2="523.46" stroke="#1a1a1a" stroke-width="1.1" /><line x1="574" y1="488.77" x2="579" y2="488.77" stroke="#1a1a1a" stroke-width="1.1" /><line x1="574" y1="454.07" x2="579" y2="454.07" stroke="#1a1a1a" stroke-width="1.1" /><rect x="574" y="445.4" width="198.3" height="164.8" fill="none" stroke="#1a1a1a" stroke-width="1.3"/><text x="588.16" y="623.5" font-family="'Liberation Serif','Times New Roman',serif" font-size="11.1" text-anchor="middle" fill="#1a1a1a" stroke="#1a1a1a" stroke-width="0.12" font-weight="normal" >0</text><text x="616.49" y="623.5" font-family="'Liberation Serif','Times New Roman',serif" font-size="11.1" text-anchor="middle" fill="#1a1a1a" stroke="#1a1a1a" stroke-width="0.12" font-weight="normal" >2</text><text x="644.82" y="623.5" font-family="'Liberation Serif','Times New Roman',serif" font-size="11.1" text-anchor="middle" fill="#1a1a1a" stroke="#1a1a1a" stroke-width="0.12" font-weight="normal" >4</text><text x="673.15" y="623.5" font-family="'Liberation Serif','Times New Roman',serif" font-size="11.1" text-anchor="middle" fill="#1a1a1a" stroke="#1a1a1a" stroke-width="0.12" font-weight="normal" >6</text><text x="701.48" y="623.5" font-family="'Liberation Serif','Times New Roman',serif" font-size="11.1" text-anchor="middle" fill="#1a1a1a" stroke="#1a1a1a" stroke-width="0.12" font-weight="normal" >8</text><text x="729.81" y="623.5" font-family="'Liberation Serif','Times New Roman',serif" font-size="11.1" text-anchor="middle" fill="#1a1a1a" stroke="#1a1a1a" stroke-width="0.12" font-weight="normal" >10</text><text x="758.14" y="623.5" font-family="'Liberation Serif','Times New Roman',serif" font-size="11.1" text-anchor="middle" fill="#1a1a1a" stroke="#1a1a1a" stroke-width="0.12" font-weight="normal" >12</text><text x="569.2" y="596.55" font-family="'Liberation Serif','Times New Roman',serif" font-size="11.1" text-anchor="end" fill="#1a1a1a" stroke="#1a1a1a" stroke-width="0.12" font-weight="normal" >0.00</text><text x="569.2" y="561.86" font-family="'Liberation Serif','Times New Roman',serif" font-size="11.1" text-anchor="end" fill="#1a1a1a" stroke="#1a1a1a" stroke-width="0.12" font-weight="normal" >0.04</text><text x="569.2" y="527.16" font-family="'Liberation Serif','Times New Roman',serif" font-size="11.1" text-anchor="end" fill="#1a1a1a" stroke="#1a1a1a" stroke-width="0.12" font-weight="normal" >0.08</text><text x="569.2" y="492.47" font-family="'Liberation Serif','Times New Roman',serif" font-size="11.1" text-anchor="end" fill="#1a1a1a" stroke="#1a1a1a" stroke-width="0.12" font-weight="normal" >0.12</text><text x="569.2" y="457.77" font-family="'Liberation Serif','Times New Roman',serif" font-size="11.1" text-anchor="end" fill="#1a1a1a" stroke="#1a1a1a" stroke-width="0.12" font-weight="normal" >0.16</text><text x="673.15" y="639.7" font-family="'Liberation Serif','Times New Roman',serif" font-size="13.5" text-anchor="middle" fill="#1a1a1a" stroke="#1a1a1a" stroke-width="0.12" font-weight="normal" >Pulse number</text><text transform="translate(544.7,527.3) rotate(-90)" font-family="'Liberation Serif','Times New Roman',serif" font-size="13.5" text-anchor="middle" fill="#1a1a1a" stroke="#1a1a1a" stroke-width="0.12">Current (mA)</text><line x1="620.6" y1="558.5" x2="646" y2="558.5" stroke="#e8352b" stroke-width="1.0" /><circle cx="633.9" cy="558.5" r="2.6" fill="url(#g9)"/><text x="650.3" y="562.4" font-family="'Liberation Serif','Times New Roman',serif" font-size="11.4" text-anchor="start" fill="#1a1a1a" stroke="#1a1a1a" stroke-width="0.12" font-weight="normal" >10 ms</text><line x1="685.5" y1="558.5" x2="710.9" y2="558.5" stroke="#f28a2c" stroke-width="1.0" /><circle cx="698.8" cy="558.5" r="2.6" fill="url(#g8)"/><text x="715.2" y="562.4" font-family="'Liberation Serif','Times New Roman',serif" font-size="11.4" text-anchor="start" fill="#1a1a1a" stroke="#1a1a1a" stroke-width="0.12" font-weight="normal" >20 ms</text><line x1="620.6" y1="572.5" x2="646" y2="572.5" stroke="#f5b82a" stroke-width="1.0" /><circle cx="633.9" cy="572.6" r="2.6" fill="url(#g7)"/><text x="650.3" y="576.5" font-family="'Liberation Serif','Times New Roman',serif" font-size="11.4" text-anchor="start" fill="#1a1a1a" stroke="#1a1a1a" stroke-width="0.12" font-weight="normal" >30 ms</text><line x1="685.5" y1="572.5" x2="710.9" y2="572.5" stroke="#7db6f0" stroke-width="1.0" /><circle cx="698.8" cy="572.6" r="2.6" fill="url(#g6)"/><text x="715.2" y="576.5" font-family="'Liberation Serif','Times New Roman',serif" font-size="11.4" text-anchor="start" fill="#1a1a1a" stroke="#1a1a1a" stroke-width="0.12" font-weight="normal" >50 ms</text><line x1="620.6" y1="586.5" x2="646" y2="586.5" stroke="#2a78d8" stroke-width="1.0" /><circle cx="633.9" cy="586.7" r="2.6" fill="url(#g5)"/><text x="650.3" y="590.6" font-family="'Liberation Serif','Times New Roman',serif" font-size="11.4" text-anchor="start" fill="#1a1a1a" stroke="#1a1a1a" stroke-width="0.12" font-weight="normal" >80 ms</text><line x1="685.5" y1="586.5" x2="710.9" y2="586.5" stroke="#141414" stroke-width="1.0" /><circle cx="698.8" cy="586.7" r="2.6" fill="url(#g4)"/><text x="715.2" y="590.6" font-family="'Liberation Serif','Times New Roman',serif" font-size="11.4" text-anchor="start" fill="#1a1a1a" stroke="#1a1a1a" stroke-width="0.12" font-weight="normal" >100 ms</text><text x="533.6" y="453.5" font-family="'Liberation Sans',Arial,sans-serif" font-size="14.6" text-anchor="start" fill="#000" stroke="#000" stroke-width="0" font-weight="bold" >I</text></svg></body></html>
